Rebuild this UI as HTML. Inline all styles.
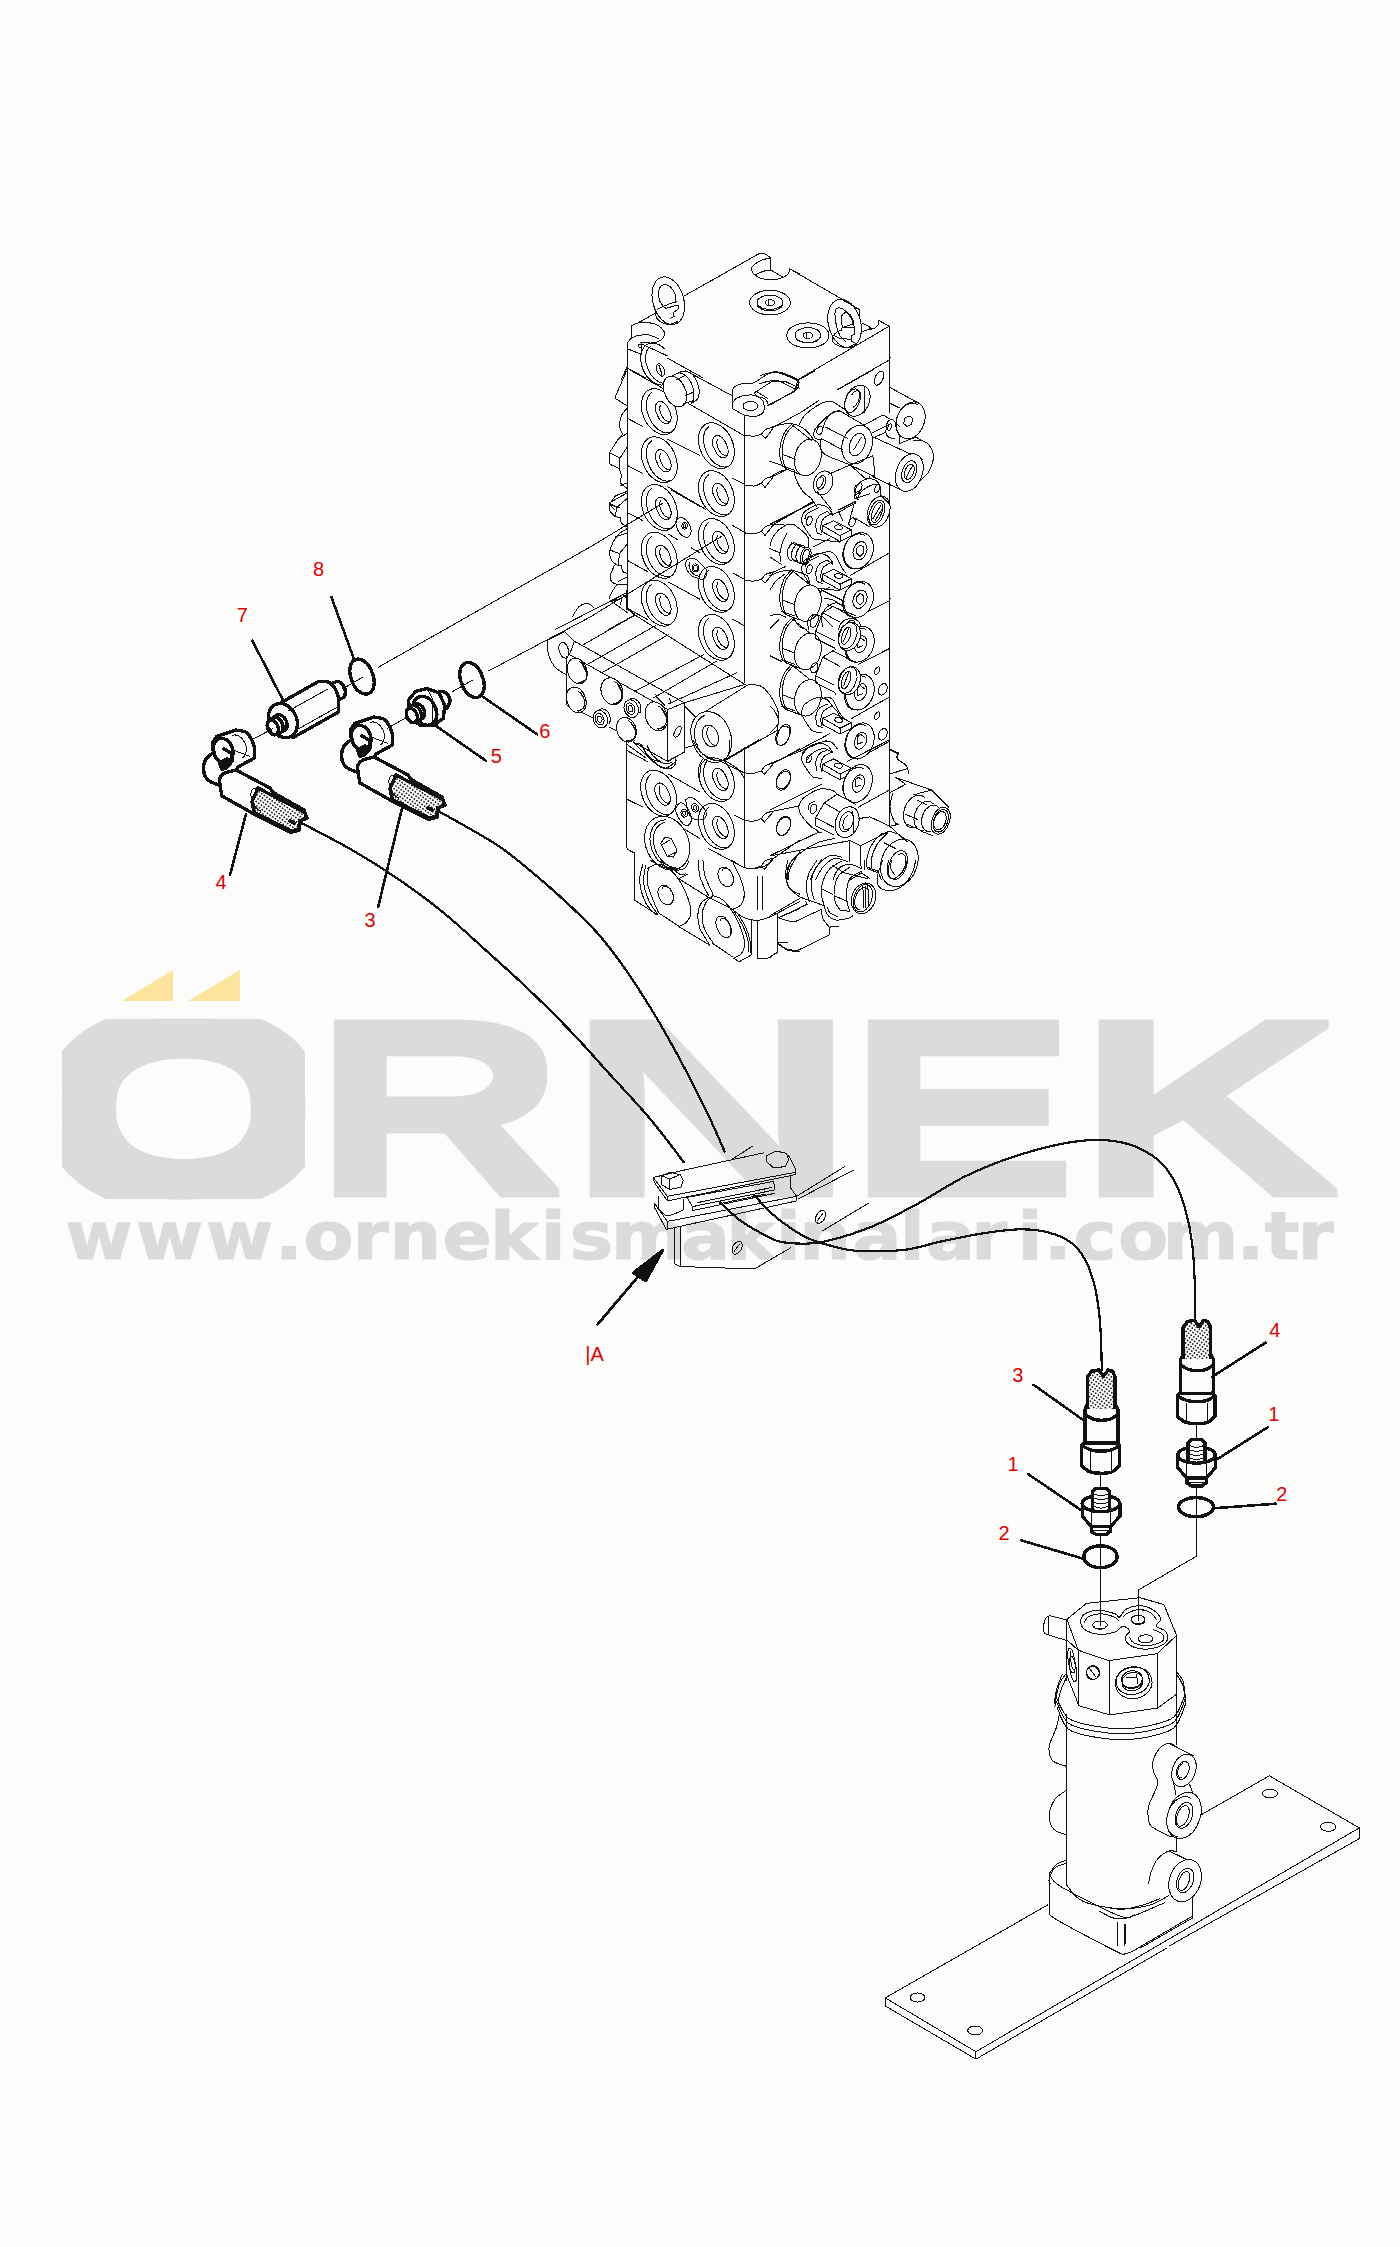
<!DOCTYPE html>
<html lang="tr">
<head>
<meta charset="utf-8">
<title>ÖRNEK - www.ornekismakinalari.com.tr</title>
<style>
html,body{margin:0;padding:0;background:#fcfdfa;}
body{width:1400px;height:2247px;overflow:hidden;font-family:"Liberation Sans",sans-serif;}
svg{display:block;}
.wm{font-family:"DejaVu Sans","Liberation Sans",sans-serif;font-weight:bold;fill:#dcdadd;}
.lbl{font-family:"Liberation Sans",sans-serif;font-size:20px;fill:#e00000;}
</style>
</head>
<body>
<svg width="1400" height="2247" viewBox="0 0 1400 2247">
<rect width="1400" height="2247" fill="#fcfdfa"/>
<defs><pattern id="hatch" width="3.2" height="3.2" patternUnits="userSpaceOnUse" patternTransform="rotate(35)"><rect width="3.2" height="3.2" fill="#fcfdfa"/><rect width="1.6" height="1.6" fill="#222"/></pattern></defs>
<!-- watermark -->
<g id="watermark">
<polygon points="122,1001 173,970 173,1001" fill="#fde49c"/>
<polygon points="188,1001 240,970 240,1001" fill="#fde49c"/>
<filter id="vd4" x="-2%" y="-10%" width="104%" height="120%"><feMorphology operator="dilate" radius="0 4"/></filter>
<clipPath id="oclip"><rect x="62" y="1019" width="243" height="180"/></clipPath>
<clipPath id="capclip"><rect x="0" y="1018.5" width="1400" height="190"/></clipPath>
<g class="wm" clip-path="url(#oclip)" aria-hidden="true"><text transform="translate(25.15,1208.40) scale(3.7260,2.7327)" font-size="100" font-family="DejaVu Sans">Ö</text><text transform="translate(19.90,1184.29) scale(3.8611,2.0725)" font-size="100" font-family="DejaVu Sans">Ö</text></g>
<g class="wm" clip-path="url(#capclip)"><g filter="url(#vd4)"><text transform="translate(0,1192.70) scale(1,2.4495)" font-size="100" font-family="Liberation Sans" stroke="#dcdadd" stroke-width="0.6" vector-effect="non-scaling-stroke"><tspan x="49.17" textLength="269.69" lengthAdjust="spacingAndGlyphs">Ö</tspan><tspan x="311.31" textLength="253.97" lengthAdjust="spacingAndGlyphs">R</tspan><tspan x="563.59" textLength="295.61" lengthAdjust="spacingAndGlyphs">N</tspan><tspan x="845.44" textLength="233.33" lengthAdjust="spacingAndGlyphs">E</tspan><tspan x="1075.42" textLength="263.96" lengthAdjust="spacingAndGlyphs">K</tspan></text></g></g>
<text class="wm" transform="scale(1.1,1)" font-size="66" y="1259.5" x="59.6 123.6 187.2 250.1 275.9 320.6 354.2 402.4 445.4 491.6 517.9 555.5 619.0 660.3 705.4 726.7 774.9 817.9 841.9 883.0 925.0 949.1 976.0 1016.6 1057.1 1124.4 1149.8 1179.7" stroke="#dcdadd" stroke-width="1.2">www.ornekismakinalari.com.tr</text>
</g>
<g id="drawing" stroke-linecap="round" stroke-linejoin="round" shape-rendering="crispEdges">
<path d="M674.4,404.9 A16.5,24 -24 1 1 644.2,418.3 A16.5,24 -24 1 1 674.4,404.9 Z M669.6,432.6 A14,22 -24 0 1 651.8,392.6 M669.2,410 A6.5,10.5 -24 1 1 657.4,415.2 A6.5,10.5 -24 1 1 669.2,410 Z M671,420.1 A5,9.5 -24 0 1 660.6,405.1 M674.4,453.1 A16.5,24 -24 1 1 644.2,466.5 A16.5,24 -24 1 1 674.4,453.1 Z M669.6,480.8 A14,22 -24 0 1 651.8,440.8 M669.2,458.2 A6.5,10.5 -24 1 1 657.4,463.4 A6.5,10.5 -24 1 1 669.2,458.2 Z M671,468.3 A5,9.5 -24 0 1 660.6,453.3 M674.4,500.8 A16.5,24 -24 1 1 644.2,514.2 A16.5,24 -24 1 1 674.4,500.8 Z M669.6,528.5 A14,22 -24 0 1 651.8,488.5 M669.2,505.9 A6.5,10.5 -24 1 1 657.4,511.1 A6.5,10.5 -24 1 1 669.2,505.9 Z M671,516 A5,9.5 -24 0 1 660.6,501 M731.5,439 A16.5,24 -24 1 1 701.3,452.4 A16.5,24 -24 1 1 731.5,439 Z M726.7,466.7 A14,22 -24 0 1 708.9,426.7 M726.3,444.1 A6.5,10.5 -24 1 1 714.5,449.3 A6.5,10.5 -24 1 1 726.3,444.1 Z M728.1,454.2 A5,9.5 -24 0 1 717.7,439.2 M731.5,486.9 A16.5,24 -24 1 1 701.3,500.3 A16.5,24 -24 1 1 731.5,486.9 Z M726.7,514.6 A14,22 -24 0 1 708.9,474.6 M726.3,492 A6.5,10.5 -24 1 1 714.5,497.2 A6.5,10.5 -24 1 1 726.3,492 Z M728.1,502.1 A5,9.5 -24 0 1 717.7,487.1 M674.4,548.6 A16.5,24 -24 1 1 644.2,562 A16.5,24 -24 1 1 674.4,548.6 Z M669.6,576.3 A14,22 -24 0 1 651.8,536.3 M669.2,553.7 A6.5,10.5 -24 1 1 657.4,558.9 A6.5,10.5 -24 1 1 669.2,553.7 Z M671,563.8 A5,9.5 -24 0 1 660.6,548.8 M674.4,596.5 A16.5,24 -24 1 1 644.2,609.9 A16.5,24 -24 1 1 674.4,596.5 Z M669.6,624.2 A14,22 -24 0 1 651.8,584.2 M669.2,601.6 A6.5,10.5 -24 1 1 657.4,606.8 A6.5,10.5 -24 1 1 669.2,601.6 Z M671,611.7 A5,9.5 -24 0 1 660.6,596.7 M731.5,534.8 A16.5,24 -24 1 1 701.3,548.2 A16.5,24 -24 1 1 731.5,534.8 Z M726.7,562.5 A14,22 -24 0 1 708.9,522.5 M726.3,539.9 A6.5,10.5 -24 1 1 714.5,545.1 A6.5,10.5 -24 1 1 726.3,539.9 Z M728.1,550 A5,9.5 -24 0 1 717.7,535 M731.5,582.7 A16.5,24 -24 1 1 701.3,596.1 A16.5,24 -24 1 1 731.5,582.7 Z M726.7,610.4 A14,22 -24 0 1 708.9,570.4 M726.3,587.8 A6.5,10.5 -24 1 1 714.5,593 A6.5,10.5 -24 1 1 726.3,587.8 Z M728.1,597.9 A5,9.5 -24 0 1 717.7,582.9 M731.5,630.6 A16.5,24 -24 1 1 701.3,644 A16.5,24 -24 1 1 731.5,630.6 Z M726.7,658.3 A14,22 -24 0 1 708.9,618.3 M726.3,635.7 A6.5,10.5 -24 1 1 714.5,640.9 A6.5,10.5 -24 1 1 726.3,635.7 Z M728.1,645.8 A5,9.5 -24 0 1 717.7,630.8 M673.7,786.5 A16.5,24 -24 1 1 643.5,799.9 A16.5,24 -24 1 1 673.7,786.5 Z M668.9,814.2 A14,22 -24 0 1 651.1,774.2 M668.5,791.6 A6.5,10.5 -24 1 1 656.7,796.8 A6.5,10.5 -24 1 1 668.5,791.6 Z M670.3,801.7 A5,9.5 -24 0 1 659.9,786.7 M731.5,771.9 A16.5,24 -24 1 1 701.3,785.3 A16.5,24 -24 1 1 731.5,771.9 Z M726.7,799.6 A14,22 -24 0 1 708.9,759.6 M726.3,777 A6.5,10.5 -24 1 1 714.5,782.2 A6.5,10.5 -24 1 1 726.3,777 Z M728.1,787.1 A5,9.5 -24 0 1 717.7,772.1 M731.5,819.7 A16.5,24 -24 1 1 701.3,833.1 A16.5,24 -24 1 1 731.5,819.7 Z M726.7,847.4 A14,22 -24 0 1 708.9,807.4 M726.3,824.8 A6.5,10.5 -24 1 1 714.5,830 A6.5,10.5 -24 1 1 726.3,824.8 Z M728.1,834.9 A5,9.5 -24 0 1 717.7,819.9 M627.9,500 L627.9,609.5 M744.3,505 L744.3,682.6 M671.6,378.4 A15,22 -24 1 1 664.4,348.7 M666.6,383.1 A12.5,20 -24 0 1 650.4,346.7 M663.8,368.5 A3.6,6.5 -24 1 1 657.2,371.5 A3.6,6.5 -24 1 1 663.8,368.5 Z M659,365.5 L662,374.5 M590,547.1 L662.1,503.6 M590,617.1 L721.4,536.4 M975.9,2051.7 L1359.3,1827.9 M975.9,2059.2 L1166,1948.5 M1170,1945.5 L1359.3,1838.6" fill="none" stroke="#111" stroke-width="1.0"/>
<path d="M760,253.1 L684.6,295.7 M656.4,312.6 L638.6,322.6 L631.4,325.7 L631.4,337.9 M760,253.1 C760.8,253.3 763.2,253.2 765,254 C766.8,254.8 769.8,257.2 770.7,257.9 M770.7,257.9 L770.7,270 M770.3,257.9 C768.8,258.3 764.1,259.1 761.4,260.3 C758.7,261.5 755.7,263.5 754,265 C752.3,266.5 751.3,267.9 751.4,269.6 C751.6,271.2 753.1,273.5 755,275 C756.9,276.5 759.4,278.1 762.9,278.9 C766.3,279.6 772.3,279.7 775.7,279.4 C779.2,279.1 781.4,278.1 783.6,277.1 C785.7,276.2 787.6,275 788.6,273.6 C789.5,272.1 789.2,269.4 789.3,268.6 M789.3,268.6 L800,273.9 M755.4,275 C756.7,274.4 760.3,272.3 762.9,271.4 C765.4,270.6 769.4,270.2 770.7,270 M770.7,270 L783.1,277.4 M638.6,322.6 C640.5,322.6 646.7,322.3 650,322.9 C653.3,323.4 656.3,324.4 658.6,325.7 C660.8,327 662.6,329.2 663.6,330.7 C664.6,332.3 664.9,333.6 664.6,335 C664.3,336.4 663.1,338.1 661.7,339.3 C660.4,340.5 658.4,341.5 656.4,342.1 C654.5,342.8 651.1,343 650,343.1 M631.4,337.9 C632.6,337.5 635.7,335.9 638.6,335.4 C641.4,335 645.2,334.5 648.6,335 C651.9,335.5 656.9,338 658.6,338.6 M631.4,337.9 C630.9,338.5 629,340.5 628.3,341.7 C627.6,342.9 627.3,344.5 627.1,345 M627.1,345 L627.1,380 M640.7,342.6 L650,342.1 M641.4,342.9 L641.4,354.3 M641.7,345.7 A1.7,1.7 0 1 1 638.3,345.7 A1.7,1.7 0 1 1 641.7,345.7 Z M641.4,343.9 L667.1,355.7 M667.1,357.9 L702.9,377.9 M628.6,349.3 L641.4,354.3 M627.1,367.1 L621.4,379.3 M627.1,367.9 L645.7,377.9 M683.1,296.5 A15.4,24 -16 1 1 653.5,305 A15.4,24 -16 1 1 683.1,296.5 Z M662.3,305.1 A8.3,12.6 -18 1 1 675.7,302.6 M655.7,312.9 C655.9,313.8 655.7,316.9 656.9,318.6 C658,320.2 660.7,321.9 662.9,322.9 C665,323.8 667.5,324.5 670,324.3 C672.5,324 676.5,321.9 677.9,321.4 M657.1,309.3 L663.6,306.4 L665.7,308.3 L677.9,305 L678.6,308.6 L672.9,312.9 L674.3,316.4 L670,318.3 M662.9,306.4 L676.4,301.4 M790.3,302.6 A20.3,12.3 0 1 1 749.7,302.6 A20.3,12.3 0 1 1 790.3,302.6 Z M782.9,302.3 A12.9,7.1 0 1 1 757.1,302.3 A12.9,7.1 0 1 1 782.9,302.3 Z M782.9,303.7 A12.9,7.1 0 0 1 757.1,303.7 M774.6,302.6 A4.6,3.1 0 1 1 765.4,302.6 A4.6,3.1 0 1 1 774.6,302.6 Z M768.6,299.7 L768.6,305.4" fill="none" stroke="#111" stroke-width="1.0"/>
<path d="M789.3,268.6 L859.3,309.3 L859.3,317.9 M842.9,300 L860,310 M878.6,320.4 L889.3,326.1 L889.3,390 M878.6,320.4 C878.5,321.1 878.9,323 878.3,324.3 C877.7,325.5 876.3,327 875,327.9 C873.7,328.7 871.4,329 870.7,329.3 M862.1,322.9 L871.4,328.1 M861.7,331.7 L870.7,328.6 M889.3,326.1 L798.6,379.3 M798.6,379.3 C798.2,380.1 796.9,382.5 796.4,384.3 C796,386.1 795.8,389 795.7,390 M889.3,360 L837.9,389.3 M889.3,357.1 L890.7,357.1 M882.5,379.8 A3.9,6.6 25 1 1 875.5,376.5 A3.9,6.6 25 1 1 882.5,379.8 Z M860,319.4 A16,24.3 -15 1 1 829.1,327.7 A16,24.3 -15 1 1 860,319.4 Z M845.7,341.4 C844.8,340.5 841.5,338.3 840,335.7 C838.5,333.1 837.3,329.5 836.4,325.7 C835.6,321.9 834.8,315.8 835,312.9 C835.2,309.9 836.3,308.3 837.9,307.9 C839.4,307.4 842,308.2 844.3,310 C846.5,311.8 849.8,315.7 851.4,318.6 C853.1,321.4 853.8,325.7 854.3,327.1 M842.8,326.8 A6,9.7 -15 1 1 853.7,325.5 M833.1,335.7 C833,336.7 831.4,339.6 832.6,341.4 C833.7,343.2 837.3,345.5 840,346.4 C842.7,347.4 845.7,347.7 848.6,347.1 C851.4,346.5 855.7,343.6 857.1,342.9 M834.3,334.3 L837.9,331.1 L841.4,330.7 L842.1,327.9 L853.6,323.6 M842.1,327.9 L854.3,327.9 L854.3,334.3 L851.4,335.7 L851.4,341.4 L855,342.9 M834.3,335.7 L840,338.6 L851.4,339.3 M828.7,335.4 A20.9,11.7 0 1 1 787,335.4 A20.9,11.7 0 1 1 828.7,335.4 Z M820.4,335.1 A12.6,6.9 0 1 1 795.3,335.1 A12.6,6.9 0 1 1 820.4,335.1 Z M820.4,336.6 A12.6,6.9 0 0 1 795.3,336.6 M812.6,335.4 A4.7,3.1 0 1 1 803.1,335.4 A4.7,3.1 0 1 1 812.6,335.4 Z M806,332.6 L806,338.3 M760,375.7 C762.1,375.1 769.3,372.5 772.9,372.1 C776.4,371.8 777.1,372.1 781.4,373.6 C785.7,375 795.7,379.5 798.6,380.7 M760,383.6 C761.9,383.1 768.1,381.1 771.4,380.7 C774.8,380.4 776.1,380 780,381.4 C783.9,382.9 792.5,388 795,389.3" fill="none" stroke="#111" stroke-width="1.0"/>
<path d="M627.9,370 L627.9,510 M744.3,415.4 L744.3,510 M630,370 L662.9,388.3 M688.6,403.6 L744.3,435.7 M627.9,418.6 L642.9,426.4 M667.1,438.9 L700,455.7 M732.9,478.6 L744.3,484.3 M627.9,465.7 L642.9,473.6 M667.1,486.4 L705.7,509.3 M685.7,370.7 L732.1,395.7" fill="none" stroke="#111" stroke-width="1.0"/>
<path d="M684.3,387.1 A10.3,15 -25 1 1 665.7,395.8 A10.3,15 -25 1 1 684.3,387.1 Z" fill="#fcfdfa" stroke="#111" stroke-width="1.0"/>
<path d="M671.4,376.4 C672.9,375.8 677.1,372.5 680,372.9 C682.9,373.2 686.3,375.7 688.6,378.6 C690.8,381.4 692.7,386.3 693.6,390 C694.4,393.7 693.6,398.9 693.6,400.7 M680,371.1 C681.9,371.5 688.3,370.9 691.4,373.6 C694.5,376.2 697.5,383 698.6,387.1 C699.6,391.3 699,395.9 697.9,398.6 C696.7,401.2 692.5,402.4 691.4,403.1 M683.6,403.6 L693.6,400.7 M685.4,395.7 L693.6,392.1 M675.7,380 L684.3,375.7 M626.4,371.4 L615.7,395.7 L615.7,398.6 L627.9,406.4 M627.9,407.4 C626.8,408.8 622.8,412.4 621.4,415.7 C620.1,419 619.5,424 619.7,427.1 C620,430.2 622.3,433.1 622.9,434.3 M622.9,434.3 L618.6,438.6 L609.3,452.9 L610,464.3 L619.3,468.6 L621.4,475.7 M609.3,452.9 L620,457.9 L627.1,447.1 M620,457.9 L619.3,468.6 M618.6,438.6 L627.9,432.9 M621.4,475.7 L620,482.9 L627.1,488.6 M627.1,482.9 L620,485.7 M627.1,491.4 L615.7,495.7 L609.3,504.3 L614.3,509.3 M609.3,504.3 L620,507.9 M732.1,395.4 C732.4,394.2 732,389.8 733.6,387.9 C735.1,385.9 738.1,384.7 741.4,383.9 C744.8,383 750,384 753.6,382.9 C757.1,381.7 759.8,378.6 762.9,376.9 C766,375.1 768.8,373.2 772.1,372.6 C775.5,371.9 778.7,371.7 782.9,372.9 C787,374 794.8,378.2 797.1,379.3 M797.1,379.3 C797.4,380.4 799.4,383.6 798.9,385.7 C798.3,387.9 794.7,391.1 793.9,392.1 M793.9,392.1 L767.9,405.3 M732.1,395.7 L732.1,408.3 L743.6,415 M743.6,415 C745.4,415.3 751.2,416.8 754.3,416.6 C757.4,416.3 760.5,414.9 762.1,413.6 C763.8,412.2 763.9,409.4 764.3,408.6 M757.7,406 A7.4,4.7 0 1 1 742.9,406 A7.4,4.7 0 1 1 757.7,406 Z M732.1,403.1 C733,402.3 734.4,399.2 737.1,397.9 C739.9,396.5 745.4,395.3 748.6,395 C751.8,394.7 754,395 756.4,396 C758.8,397 761.5,398.7 762.9,400.7 C764.2,402.8 764.3,407 764.6,408.3 M754.3,392.9 L771.4,381.7 L784.3,381 L800,388.3 M754.3,392.9 C754.8,393.5 755.5,395.5 757.1,396.4 C758.8,397.4 762.6,397.6 764.3,398.6 C766,399.5 766.7,401 767.4,402.1 C768.1,403.3 768.4,405.1 768.6,405.7 M756.4,391.4 L767.9,398.6 M744.3,435.7 C746.1,435.8 752.1,436.2 755,436 C757.9,435.8 760.4,434.6 761.4,434.3 M761.4,434.3 L765.7,438.3 L773.6,427.4 M761.4,434.3 C762.1,433.5 763.7,430.5 765.7,429.3 C767.7,428.1 772.3,427.5 773.6,427.1 M773.6,427.1 L800,412.9 M744.3,485 C746,485.2 751.4,486.3 754.3,486 C757.1,485.7 760.2,483.6 761.4,483.1 M761.4,483.1 L765,487.4 L773.6,476.4 M761.4,483.1 C762.1,482.4 763.7,479.7 765.7,478.6 C767.7,477.5 772.3,476.8 773.6,476.4 M773.6,476.4 L785.7,470" fill="none" stroke="#111" stroke-width="1.0"/>
<path d="M889.3,370 L889.3,412.9 M889.3,482.9 L889.3,510 M899.3,426.4 L899.3,443.6 M800,412.9 L818.6,400.7 M837.1,390 L872.9,370 M770,372.9 C771.4,372.7 774,370.8 778.6,372.1 C783.1,373.5 793.9,378.7 797.1,380.7 C800.4,382.7 798.7,382.5 798.1,384.3 C797.5,386.1 794.3,390.2 793.6,391.4 M793.6,391.4 L770,405 M799.3,379.3 L814.3,371.4 M868,405.7 A11.7,16 25 1 1 846.8,395.8 A11.7,16 25 1 1 868,405.7 Z M858.9,403.3 A6.9,11.1 22 1 1 846.2,398.1 A6.9,11.1 22 1 1 858.9,403.3 Z M851.7,395 A4.3,8.9 22 1 1 853.4,407.2 M864.3,386.4 L864.3,412.9" fill="none" stroke="#111" stroke-width="1.0"/>
<path d="M871,449.6 A14.7,19.7 20 1 1 843.3,439.5 A14.7,19.7 20 1 1 871,449.6 Z" fill="#fcfdfa" stroke="#111" stroke-width="1.0"/>
<path d="M864,447.4 A7.4,11.7 22 1 1 850.3,441.8 A7.4,11.7 22 1 1 864,447.4 Z M853.6,450 L861.4,437.1 M864.3,425.3 L840,411 M840,411 C838.8,411.2 835.1,410.8 832.9,412.1 C830.6,413.5 828.2,416.3 826.4,419.3 C824.6,422.3 822.9,428.2 822.1,430 M825.7,427.1 L847.9,438.6 M821.4,438.6 L842.9,450 M821.4,438.6 C821.2,440 819.7,444.5 820.3,447.1 C820.9,449.8 821.5,452.2 825,454.6 C828.5,457 838.7,460.3 841.4,461.4 M841.4,461.4 L850,465 L874.3,476.4 M850,465 L872.9,455.7 M814.3,430.7 C815,429.8 816,427.7 818.6,425 C821.2,422.3 826.5,416.7 830,414.3 C833.5,411.9 837.7,411.1 839.3,410.4 M814.3,430.7 C814.2,431.4 813.3,433.7 813.6,435 C813.8,436.3 814.4,437.7 815.7,438.6 C817,439.4 820.5,439.8 821.4,440 M822.3,431.2 A2.7,4.3 20 1 1 817.2,429.4 A2.7,4.3 20 1 1 822.3,431.2 Z M850,465 L867.1,480 M872.9,455.7 L875,475.7 M864.3,425 L882.9,415 L889.3,418.6 M872.1,432.9 L889.3,424.3 M872.9,437.9 L884.3,432.9 M873.6,437.1 L922.1,459.3 M872.1,476.4 L905,491.7" fill="none" stroke="#111" stroke-width="1.0"/>
<path d="M921.4,477 A12.9,18.3 20 1 1 897.2,468.2 A12.9,18.3 20 1 1 921.4,477 Z" fill="#fcfdfa" stroke="#111" stroke-width="1.0"/>
<path d="M915.7,474.1 A6.9,10.3 20 1 1 902.8,469.4 A6.9,10.3 20 1 1 915.7,474.1 Z M913.3,473.2 A4.3,7.1 20 1 1 905.3,470.2 A4.3,7.1 20 1 1 913.3,473.2 Z M906.4,477.1 L912.9,465 M912.9,440 C914.8,440.2 921.1,439.8 924.3,441.4 C927.5,443.1 930.7,446.7 932.1,450 C933.6,453.3 933.6,457.6 932.9,461.4 C932.1,465.2 929.8,469.9 927.9,472.9 C926,475.8 922.5,478.2 921.4,479.3 M915.7,437.1 L927.1,443.1 M899.3,443.6 L915.7,437.1" fill="none" stroke="#111" stroke-width="1.0"/>
<path d="M923.6,425 A13.7,18.9 20 1 1 897.8,415.6 A13.7,18.9 20 1 1 923.6,425 Z" fill="#fcfdfa" stroke="#111" stroke-width="1.0"/>
<path d="M903.2,437.5 A12.6,17.9 20 1 1 917.4,404.9 M905,417.9 L909.3,416 L912.9,418.6 L911.4,424.3 L907.1,426.4 L903.6,423.6Z M889.3,387.1 L918.6,403.1 M889.3,402.9 L899.3,407.9 M886.4,425 C886.8,424.3 887.5,421.5 888.6,420.7 C889.6,419.9 891.7,419.6 892.9,420 C894,420.4 895.2,422.4 895.7,422.9 M886.4,425 C886.4,426.3 885.6,430.8 886,432.9 C886.4,434.9 887.2,436.2 888.6,437.1 C890,438.1 893.3,438.3 894.3,438.6 M895.7,422.9 L899.3,426.4 M891.3,427.7 A1.7,3.1 20 1 1 888.1,426.6 A1.7,3.1 20 1 1 891.3,427.7 Z" fill="none" stroke="#111" stroke-width="1.0"/>
<path d="M820.3,460.8 A12.9,17.9 15 1 1 795.4,454.1 A12.9,17.9 15 1 1 820.3,460.8 Z" fill="#fcfdfa" stroke="#111" stroke-width="1.0"/>
<path d="M791.4,424.3 C790.1,426 785.5,430 783.6,434.3 C781.6,438.6 780.1,445.2 779.7,450 C779.4,454.8 780.4,459.7 781.4,462.9 C782.4,466 785,467.9 785.7,468.9 M793.6,425 C792.3,426.7 787.6,430.8 785.7,435 C783.8,439.2 782.5,445.4 782.1,450 C781.8,454.6 782.7,459.6 783.6,462.9 C784.4,466.1 786.5,468.2 787.1,469.3 M791.4,424.3 L811.4,440.3 M785.7,468.9 L800,474.3 M782.1,454.3 L795.7,459.3 M781.4,465.7 L794.6,470.3 M770,427.9 C771.4,427.4 775.2,425.7 778.6,425 C781.9,424.3 786.7,423.5 790,423.6 C793.3,423.7 795.7,424.4 798.6,425.7 C801.4,427 804.8,429.2 807.1,431.4 C809.5,433.6 811.9,437.6 812.9,438.9 M799.3,424.3 C800.1,422.9 801.3,418.8 804.3,415.7 C807.3,412.6 813.3,408.1 817.1,405.7 C821,403.3 824.4,402 827.1,401.4 C829.9,400.8 832.5,402 833.6,402.1 M833.6,402.1 L844.3,409.3 M770,461.4 L780.7,465 M770,477.1 C771.4,476.3 775.7,473.5 778.6,472.1 C781.4,470.8 785.7,469.8 787.1,469.3 M794.3,470 C794.5,471.4 794.3,475 795.7,478.6 C797.1,482.1 800.2,488.1 802.9,491.4 C805.5,494.8 809,496 811.4,498.6 C813.8,501.2 816.2,505.7 817.1,507.1 M832,486.1 A9.4,12.1 20 1 1 814.3,479.6 A9.4,12.1 20 1 1 832,486.1 Z M825.2,484 A4.3,7.1 20 1 1 817.1,481.1 A4.3,7.1 20 1 1 825.2,484 Z M819.8,477.4 A2.9,5.7 20 1 1 818,487.5 M817.1,491.4 L831.4,509.3 M828.6,474.3 L850,465 M855.7,495.7 C855.5,494.5 853.7,490.7 854.3,488.6 C854.9,486.4 856.9,484.5 859.3,482.9 C861.7,481.2 865.6,478.8 868.6,478.6 C871.5,478.3 875.1,479.8 877.1,481.4 C879.2,483.1 880.2,486.4 880.7,488.6 C881.2,490.7 880.1,493.3 880,494.3 M857.1,499.3 C857.9,498 859.3,493.7 861.4,491.4 C863.6,489.2 867.4,486.9 870,485.7 C872.6,484.5 876,484.5 877.1,484.3 M860.9,489.7 A2.6,5.7 25 1 1 856.2,487.5 A2.6,5.7 25 1 1 860.9,489.7 Z M879.2,489.3 A2.1,4.3 20 1 1 875.1,487.8 A2.1,4.3 20 1 1 879.2,489.3 Z M855.7,495.7 L858.6,500 M868.6,478.6 L870,475.7 M870,510 C871,508.8 873.6,504.8 875.7,502.9 C877.9,501 880.6,498.6 882.9,498.6 C885.1,498.6 888.2,502.1 889.3,502.9 M875.7,510 C876.4,509.3 878.6,506.8 880,505.7 C881.4,504.6 883.6,503.9 884.3,503.6 M798.6,510 L812.9,501.4 M838.6,510 L855.7,501.4" fill="none" stroke="#111" stroke-width="1.0"/>
<path d="M671.4,490 L700,506.4 M732.9,525.7 L744.3,532.1 M627.9,512.9 L642.9,520.7 M668.6,534.3 L677.1,539.3 M691.4,547.9 L700,552.9 M732.9,572.9 L744.3,579.3 M627.9,560.7 L647.1,571.4 M668.6,582.1 L700,599.3 M627.9,608.6 L647.1,619.3 M732.9,619.3 L744.3,625.7 M689.2,524.4 A6.4,10.3 -28 1 1 677.9,530.4 A6.4,10.3 -28 1 1 689.2,524.4 Z M687.1,525.7 A2.6,2.9 0 1 1 682,525.7 A2.6,2.9 0 1 1 687.1,525.7 Z M686,525.7 A1.4,1.7 0 1 1 683.1,525.7 A1.4,1.7 0 1 1 686,525.7 Z M698.6,578.6 C697.4,578.1 693.3,577.1 691.4,575.7 C689.5,574.3 688.1,572.1 687.1,570 C686.2,567.9 685.4,564.8 685.7,562.9 C686.1,561 687.6,559.2 689.3,558.6 C691,558 693.5,558.1 695.7,559.3 C698,560.5 701.1,563.9 702.9,565.7 C704.6,567.5 705.8,568.3 706.4,570 C707,571.7 707,574.2 706.4,575.7 C705.8,577.3 704.2,578.8 702.9,579.3 C701.5,579.8 699.3,578.7 698.6,578.6 M700,576.4 C698.9,576.1 695.4,575.7 693.6,574.3 C691.8,572.9 690,569.9 689.3,567.9 C688.6,565.8 689.3,563.1 689.3,562.1 M698.9,567.9 A3.4,4 0 1 1 692,567.9 A3.4,4 0 1 1 698.9,567.9 Z M697.3,567.9 A1.9,2.3 0 1 1 693.6,567.9 A1.9,2.3 0 1 1 697.3,567.9 Z M744.3,532.9 C746,533 751.4,533.8 754.3,533.6 C757.1,533.3 760.2,531.8 761.4,531.4 M761.4,531.4 L765,535.4 L773.6,524.6 M761.4,531.4 C762.1,530.6 763.7,527.6 765.7,526.4 C767.7,525.2 772.3,524.6 773.6,524.3 M773.6,524.3 L800,509.3 M744.3,580.7 C746,580.8 751.4,581.2 754.3,581 C757.1,580.8 760.2,579.6 761.4,579.3 M761.4,579.3 L765,583.1 L773.6,572.4 M761.4,579.3 C762.3,578.4 764.4,575.2 766.4,574 C768.5,572.8 772.4,572.5 773.6,572.1 M773.6,572.1 L785.7,566.4 M627.1,492.9 L617.1,498.6 L609.3,502.9 L610,511.4 L615,516.4 L620.7,517.9 M609.3,502.9 L617.1,507.1 L627.1,498.6 M617.1,507.1 L615,516.4 M620.7,517.9 C620.8,518.7 620.4,521.3 621.4,522.9 C622.5,524.4 626.2,526.4 627.1,527.1 M627.1,528.6 C625.5,529.8 620,532.1 617.1,535.7 C614.3,539.3 611.1,546.2 610,550 C608.9,553.8 609.8,556.2 610.7,558.6 C611.7,561 613.9,563.1 615.7,564.3 C617.5,565.5 620.5,565.5 621.4,565.7 M610,550 L619.3,553.6 L627.1,544.3 M619.3,553.6 L618.6,565 M615,537.1 L627.1,532.9 M621.4,565.7 C621.7,566.7 621.9,570.1 622.9,571.4 C623.8,572.7 626.4,573.2 627.1,573.6 M614.3,565.7 C613.7,567.1 611.2,571.7 610.7,574.3 C610.2,576.9 610.4,579.8 611.4,581.4 C612.5,583.1 614.5,583.7 617.1,584.3 C619.8,584.9 625.5,584.9 627.1,585 M627.1,577.1 L618.6,581.4 M617.1,584.3 C616.2,585.7 612.7,590.5 611.4,592.9 C610.1,595.2 609.6,597.6 609.3,598.6 M611.4,601.4 L621.4,598.6 L620.7,604.3 M611.4,601.4 L627.9,612.9 M627.1,609.3 L635,614.3 M608.6,629.3 L635,615" fill="none" stroke="#111" stroke-width="1.0"/>
<path d="M626.8,590 L626.8,609.3 M626.8,738.5 L626.8,779 M744.5,590 L744.5,682.6 M744.5,753.9 L744.5,779 M569.5,654.6 L667.9,709.6 M566.6,656.5 L566.6,704.8 L584,713.4 M634.1,742.4 L667.9,761.6 L667.9,709.6 M667.9,709.6 L684.3,702.8 L684.3,752 L667.9,761.6 M574.4,641.1 L684.3,702.8 M569.5,654.6 L574.4,641.1 M547.4,640.1 C547.5,642.4 547,649.1 548.3,653.6 C549.6,658.1 552,663.6 555.1,667.1 C558.1,670.7 564.7,673.6 566.6,674.9 M547.4,640.1 L564.7,631.5 L575.3,642.1 M568.2,649 A4.6,8.1 -15 1 1 559.3,651.4 A4.6,8.1 -15 1 1 568.2,649 Z M555.1,629.5 L626.4,592.9 M572.4,617 C573.6,615.2 576.6,608.6 579.2,606.4 C581.8,604.1 585.4,603.3 587.9,603.5 C590.3,603.7 592.7,607 593.6,607.7 M611,601.6 L622.6,594.8 L626.4,597.7 M581.1,645.9 L635.1,615.1 M587.9,664.2 L655.4,625.7 M603.3,672 L668.9,634.4 M635.1,691.2 L703.6,654.6 M653.4,698 L716.1,661.4 M668.9,703.8 L736.4,672.9 M684.3,702.8 L744.5,684.5 M635.1,615.1 L745,684.5 M627.4,609.3 L635.1,615.1" fill="none" stroke="#111" stroke-width="1.0"/>
<path d="M586.3,667.7 A9.6,13.1 -20 1 1 568.2,674.3 A9.6,13.1 -20 1 1 586.3,667.7 Z" fill="#fcfdfa" stroke="#111" stroke-width="1.0"/>
<path d="M579.1,661.6 A7.7,11.1 -20 0 1 578.5,682.4 M582.1,663.8 L586.4,672.3 M579.2,683.5 L584.5,680.2" fill="none" stroke="#111" stroke-width="1.0"/>
<path d="M585,696.8 A9.3,12 -20 1 1 567.6,703.1 A9.3,12 -20 1 1 585,696.8 Z" fill="#fcfdfa" stroke="#111" stroke-width="1.0"/>
<path d="M578.3,691.4 A7.4,10.2 -20 0 1 577.4,710.4 M580.9,693.4 L585.1,701.1 M578.1,711.3 L583.2,708.3" fill="none" stroke="#111" stroke-width="1.0"/>
<path d="M621.9,687.6 A10.6,13.5 -20 1 1 602,694.9 A10.6,13.5 -20 1 1 621.9,687.6 Z" fill="#fcfdfa" stroke="#111" stroke-width="1.0"/>
<path d="M614.1,681.4 A8.5,11.5 -20 0 1 612.9,703 M617.3,683.8 L622,692.6 M614.1,704.1 L619.9,700.7" fill="none" stroke="#111" stroke-width="1.0"/>
<path d="M666.3,712.7 A10.6,13.9 -20 1 1 646.4,719.9 A10.6,13.9 -20 1 1 666.3,712.7 Z" fill="#fcfdfa" stroke="#111" stroke-width="1.0"/>
<path d="M658.4,706.2 A8.5,11.8 -20 0 1 657.4,728.3 M661.6,708.7 L666.4,717.7 M658.4,729.5 L664.3,726" fill="none" stroke="#111" stroke-width="1.0"/>
<path d="M635.5,726.5 A9.6,12.5 -20 1 1 617.4,733.1 A9.6,12.5 -20 1 1 635.5,726.5 Z" fill="#fcfdfa" stroke="#111" stroke-width="1.0"/>
<path d="M628.4,720.8 A7.7,10.7 -20 0 1 627.5,740.8 M631.2,722.9 L635.6,731.1 M628.4,741.7 L633.7,738.6" fill="none" stroke="#111" stroke-width="1.0"/>
<path d="M637.8,706.2 A6.9,8.9 -20 1 1 624.7,711 A6.9,8.9 -20 1 1 637.8,706.2 Z" fill="#fcfdfa" stroke="#111" stroke-width="1.0"/>
<path d="M634.5,707.2 A4.2,5.8 -20 1 1 626.5,710.1 A4.2,5.8 -20 1 1 634.5,707.2 Z M632.7,707.8 A2.3,3.1 -20 1 1 628.3,709.4 A2.3,3.1 -20 1 1 632.7,707.8 Z M628.9,700 A6.9,8.9 -20 0 1 639.8,713.1" fill="none" stroke="#111" stroke-width="1.0"/>
<path d="M606.9,716.8 A6.9,8.9 -20 1 1 593.9,721.6 A6.9,8.9 -20 1 1 606.9,716.8 Z" fill="#fcfdfa" stroke="#111" stroke-width="1.0"/>
<path d="M603.6,717.8 A4.2,5.8 -20 1 1 595.6,720.7 A4.2,5.8 -20 1 1 603.6,717.8 Z M601.8,718.4 A2.3,3.1 -20 1 1 597.4,720 A2.3,3.1 -20 1 1 601.8,718.4 Z M598,710.6 A6.9,8.9 -20 0 1 609,723.7 M679.9,733.1 A2.7,5.8 30 1 1 675.2,730.4 A2.7,5.8 30 1 1 679.9,733.1 Z M669.8,698 L670.4,702.8 M655.4,694.1 L657.3,698 L665,705.7 M584,713.4 L593.6,718.2 M609.1,726.9 L616.8,730.8 M699.7,715 L747.9,684.9 M747.9,684.9 C750.2,685.1 757.2,683.9 761.4,686.4 C765.6,688.9 770.1,695.1 773,699.9 C775.9,704.8 778.1,710.4 778.8,715.4 C779.5,720.3 777.5,727.4 777.2,729.8 M777.2,730.4 L724.8,760.7" fill="none" stroke="#111" stroke-width="1.0"/>
<path d="M729.4,730.4 A19.3,24.7 -20 1 1 693.2,743.6 A19.3,24.7 -20 1 1 729.4,730.4 Z" fill="#fcfdfa" stroke="#111" stroke-width="1.0"/>
<path d="M720.9,759.6 A17.7,23.5 -20 0 1 704.8,715.4 M717.6,733.4 A7.7,11.2 -20 1 1 703.1,738.6 A7.7,11.2 -20 1 1 717.6,733.4 Z M717,744.6 A5.4,9.6 -20 0 1 708.7,727.4 M789,737 A5.8,10 20 1 1 778.2,733 A5.8,10 20 1 1 789,737 Z M684.3,705.7 L695.9,717.3 M684.3,748.1 L697.8,744.3 M634.1,742.4 C635.4,743.8 638.6,747.8 641.9,751 C645.1,754.3 649.6,759.1 653.4,762 C657.3,764.9 661.1,768.6 665,768.4 C668.9,768.2 674.6,762 676.6,760.7 M641.9,746.2 C643.1,748.1 645.7,754.9 649.6,757.8 C653.4,760.7 662.4,762.6 665,763.6 M626.8,744.3 L645.7,757.8 M699.7,779 C700,776.4 699.7,767.1 701.6,763.6 C703.6,760 707.4,758.3 711.3,757.8 C715.1,757.3 722.5,760.2 724.8,760.7 M724.8,760.7 C727,762.1 735,766.3 738.3,769.4 C741.6,772.4 743.4,777.4 744.5,779" fill="none" stroke="#111" stroke-width="1.0"/>
<path d="M626.4,740 L626.4,844.3 M626.4,844.3 C626.7,845.1 626.5,847.9 627.9,849.3 C629.2,850.7 633.2,852.3 634.3,852.9 M634.3,852.9 L634.3,880 M744.3,747.9 L744.3,867.9 M627.1,750.7 L647.1,761.4 M668.6,774.3 L700,792.1 M734.3,815 L744.3,820.3 M627.1,799.3 L642.9,807.1 M674.3,822.9 L700,838.6 M708.6,848.6 L744.3,867.9 M720,761.1 L744.3,772.9 M677.9,804.3 C678.5,804 680.1,802.6 681.4,802.9 C682.7,803.1 684.4,804.3 685.7,805.7 C687,807.1 688.3,809 689.3,811.4 C690.2,813.8 691.5,817.7 691.4,820 C691.3,822.3 689.9,824.3 688.6,825 C687.3,825.7 685.2,825.5 683.6,824.3 C681.9,823.1 679.9,820.2 678.6,817.9 C677.3,815.5 675.8,812.3 675.7,810 C675.6,807.7 677.5,805.2 677.9,804.3 M687.2,812.1 A3.1,4 -20 1 1 681.3,814.2 A3.1,4 -20 1 1 687.2,812.1 Z M685.8,812.6 A1.6,2 -20 1 1 682.8,813.7 A1.6,2 -20 1 1 685.8,812.6 Z M685.7,800 C686.4,799.5 688.3,797.1 690,797.1 C691.7,797.1 693.6,798.3 695.7,800 C697.9,801.7 701.1,805 702.9,807.1 C704.6,809.3 706.1,811.1 706.4,812.9 C706.8,814.6 706.1,816.7 705,817.9 C703.9,819 702,819.9 700,820 C698,820.1 694.9,820 692.9,818.6 C690.8,817.1 689,814.5 687.9,811.4 C686.7,808.3 686.1,801.9 685.7,800 M698.2,806.7 A3.4,4.3 -20 1 1 691.8,809 A3.4,4.3 -20 1 1 698.2,806.7 Z M696.6,807.3 A1.7,2.1 -20 1 1 693.4,808.4 A1.7,2.1 -20 1 1 696.6,807.3 Z" fill="none" stroke="#111" stroke-width="1.0"/>
<path d="M686.7,834.4 A21.4,27.9 -24 1 1 647.6,851.9 A21.4,27.9 -24 1 1 686.7,834.4 Z" fill="#fcfdfa" stroke="#111" stroke-width="1.0"/>
<path d="M676.9,868.5 A18.9,25.4 -24 1 1 665.9,819.8 M675.2,867.6 A16.9,23.6 -24 0 1 664.7,822.6 M660.7,843.6 L665,837.1 L671.4,838.6 L677.1,850 L673.6,857.1 L667.1,856.4Z M661.4,845 L670,840 M668.6,855.7 L676.4,852.1 M744.3,772.9 C746,772.9 751.4,773.5 754.3,773.1 C757.1,772.8 760.2,771.1 761.4,770.7 M761.4,770.7 L764.3,774.3 L773.6,763.6 M761.4,770.7 C762.1,769.8 763.7,766.7 765.7,765.4 C767.7,764.2 772.3,763.6 773.6,763.3 M773.6,763.3 L800,748.6 M744.3,820.7 C746,820.8 751.4,821.4 754.3,821 C757.1,820.6 760.2,819 761.4,818.6 M761.4,818.6 L764.3,822.1 L773.6,811.4 M761.4,818.6 C762.1,817.7 763.7,814.5 765.7,813.3 C767.7,812 772.3,811.5 773.6,811.1 M773.6,811.1 L800,805.7 M744.3,867.9 C746,867.9 751.4,868.5 754.3,868.1 C757.1,867.8 760.2,866.1 761.4,865.7 M761.4,865.7 L764.3,869.3 L773.6,858.6 M761.4,865.7 C762.1,864.8 763.7,861.7 765.7,860.4 C767.7,859.2 772.3,858.6 773.6,858.3 M773.6,858.3 L800,840 M789.1,783.4 A6.4,9.7 25 1 1 777.5,778 A6.4,9.7 25 1 1 789.1,783.4 Z M789.4,829.1 A6.4,9.7 25 1 1 777.7,823.7 A6.4,9.7 25 1 1 789.4,829.1 Z M667.1,740 L667.1,761.4 L684.3,752.1 L684.3,740 M641.4,744.3 C642.4,746 644.5,751 647.1,754.3 C649.8,757.6 653.8,761.9 657.1,764.3 C660.5,766.7 664.3,768.3 667.1,768.6 C670,768.9 672.8,767.7 674.3,766 C675.8,764.3 675.7,759.8 676,758.6 M647.1,745.7 C648.1,747.4 650.2,752.9 652.9,755.7 C655.5,758.6 659.8,761.7 662.9,762.9 C666,764 670,762.9 671.4,762.9 M634.3,740 L633.6,742.9 L641.4,744.3 M692.9,740 C694,741.9 696.9,748.3 700,751.4 C703.1,754.5 707.9,757 711.4,758.6 C715,760.1 718.6,761.4 721.4,760.7 C724.3,760 727.3,757.7 728.6,754.3 C729.9,750.8 729.2,742.4 729.3,740 M725.7,759.3 L758.6,740 M788.6,880 C788.8,878.1 788.1,873.3 790,868.6 C791.9,863.8 798.3,854.3 800,851.4" fill="none" stroke="#111" stroke-width="1.0"/>
<path d="M634.3,860 L634.3,900 L657.1,914.6 M647.1,868.6 C648.8,867.9 653.6,864.3 657.1,864.3 C660.7,864.3 664.8,865.7 668.6,868.6 C672.4,871.4 676.7,876.2 680,881.4 C683.3,886.7 686.8,894.5 688.6,900 C690.4,905.5 691.2,910.5 690.7,914.3 C690.2,918.1 687.5,921 685.7,922.9 C683.9,924.8 681,925.2 680,925.7 M648.6,867.1 C648.3,869.5 646.7,876.7 647.1,881.4 C647.6,886.2 649.5,890.5 651.4,895.7 C653.3,901 657.4,910 658.6,912.9 M642.9,864.3 C642.3,867.1 639.2,875 639.7,881.4 C640.2,887.9 643,897.4 645.7,902.9 C648.4,908.3 654,912.4 655.7,914.3 M645.7,865.7 C645.4,868.3 643.1,875.7 643.6,881.4 C644,887.1 646.3,894.6 648.6,900 C650.8,905.4 655.7,911.3 657.1,913.6 M672.2,892.1 A7.1,10.3 -24 1 1 659.2,897.9 A7.1,10.3 -24 1 1 672.2,892.1 Z M662,889 A5.1,8.9 -24 1 1 672.4,901.9 M658.6,912.9 L678.6,926 M678.6,926.4 L710,945.3 M650,860 C651.7,861 656,864 660,865.7 C664,867.4 670.2,869.5 674.3,870 C678.3,870.5 681.9,870 684.3,868.6 C686.7,867.1 687.9,862.6 688.6,861.4 M657.1,860 C659,861 664.8,863.3 668.6,865.7 C672.4,868.1 677.1,873 680,874.3 C682.9,875.6 684.8,873.7 685.7,873.6 M678.6,878.6 L708.6,897.4 M678.6,878.6 L687.1,874.3 M708.6,897.4 L732.9,909.3 M732.9,909.3 C734.3,908.5 739.5,907 741.4,904.3 C743.3,901.5 744.5,897.4 744.3,892.9 C744,888.3 741.9,882.1 740,877.1 C738.1,872.1 734,865.2 732.9,862.9 M732.2,874 A7.1,10.3 -24 1 1 719.2,879.8 A7.1,10.3 -24 1 1 732.2,874 Z M722,870.9 A5.1,8.9 -24 1 1 732.4,883.7 M698.6,860 C698.8,862.9 698.3,871.2 700,877.1 C701.7,883.1 707.1,892.6 708.6,895.7 M702.9,860 C703.2,862.6 703.3,870 705,875.7 C706.7,881.4 711.5,891.2 712.9,894.3 M708.6,897.4 C707.4,898.3 703.2,900 701.4,902.9 C699.6,905.7 698.1,910 697.9,914.3 C697.6,918.6 698,923.4 700,928.6 C702,933.7 708.3,942.5 710,945.3 M712.9,895.7 C711.7,896.9 707.5,899.8 705.7,902.9 C703.9,906 702.4,910 702.1,914.3 C701.9,918.6 702.4,923.7 704.3,928.6 C706.2,933.5 712,941.1 713.6,943.6 M712.9,895.7 C714.5,896.4 719.3,896.9 722.9,900 C726.4,903.1 731,908.6 734.3,914.3 C737.6,920 741.2,928.8 742.9,934.3 C744.5,939.8 744.6,943.8 744.3,947.1 C743.9,950.5 742.4,952.5 740.7,954.3 C739,956.1 735.4,957.3 734.3,957.9 M729.6,924.2 A6.6,10.3 -24 1 1 717.6,929.5 A6.6,10.3 -24 1 1 729.6,924.2 Z M720.1,920.8 A4.6,8.9 -24 1 1 730.1,933.8 M712.9,943.6 L732.9,957.1 M732.9,957.9 L739.3,961.7 L751.4,955 M734.3,912.1 C735.7,914.4 740.6,921.1 742.9,925.7 C745.1,930.4 746.9,935.7 747.9,940 C748.8,944.3 748.5,949.5 748.6,951.4 M737.1,912.9 C738.6,915.2 743.6,922.4 745.7,927.1 C747.9,931.9 749.2,937.1 750,941.4 C750.8,945.7 750.6,951 750.7,952.9 M757.1,876.4 L757.1,909.3 M762.9,876.4 L762.9,909.3 M751.4,920 L751.4,955 M757.1,920.7 L757.1,958.6 M777.9,912.9 L777.9,951.4 M757.1,958.6 C759,958.5 765.1,959 768.6,957.9 C772,956.7 776.3,952.5 777.9,951.4 M732.9,910 C734.5,911.2 739.3,915.4 742.9,917.1 C746.4,918.9 750.5,920 754.3,920.3 C758.1,920.5 761.8,919.8 765.7,918.6 C769.6,917.3 775.8,913.8 777.9,912.9 M777.9,912.9 L800,901.4 M777.9,917.9 L800,908.6 M777.9,942.9 C779.2,943.8 782,947.1 785.7,948.6 C789.4,950 797.6,951 800,951.4 M778.6,942.1 L787.1,942.1 M732.9,860.7 C734.5,861.8 739.3,865.8 742.9,867.1 C746.4,868.5 750.5,868.8 754.3,868.6 C758.1,868.3 762.9,867.1 765.7,865.7 C768.6,864.3 770.5,861 771.4,860 M800,894.3 C798.3,893.3 792.3,891.4 790,888.6 C787.7,885.7 786.4,881.2 786.4,877.1 C786.4,873.1 788.9,867.1 790,864.3 C791.1,861.4 792.4,860.7 792.9,860" fill="none" stroke="#111" stroke-width="1.0"/>
<path d="M889.3,490 L889.3,630 M850,575.7 L889.3,552.9 M855.7,617.9 L889.3,600.7 M770,524.3 L814.3,502.1 M889.3,598.6 L890.7,598.6 M802.1,516.4 C802.6,515.6 802.5,513.3 805,511.4 C807.5,509.5 813.5,505.7 817.1,505 C820.8,504.3 824.5,505.6 827.1,507.1 C829.8,508.7 831.9,513.1 832.9,514.3 M802.1,516.4 C802.1,517.5 801.3,520.4 802.1,522.9 C803,525.4 805.4,528.8 807.1,531.4 C808.9,534 810.5,537.1 812.9,538.6 C815.2,540 820,539.8 821.4,540 M805,518.6 C805.4,517.7 805.2,515.4 807.4,513.6 C809.7,511.8 816.7,508.8 818.6,507.9 M811.7,521.6 A2.6,4 20 1 1 806.9,519.8 A2.6,4 20 1 1 811.7,521.6 Z M827.9,511.4 C826.4,512.1 821.3,513.6 819.3,515.7 C817.3,517.9 816.1,521.4 815.7,524.3 C815.4,527.1 816.9,531.4 817.1,532.9 M832.1,513.6 C830.7,514.4 825.5,516.4 823.6,518.6 C821.7,520.7 821,524 820.7,526.4 C820.4,528.8 821.5,531.8 821.7,532.9 M817.1,532.9 L822.1,535 M827.1,511.4 L832.9,515.7" fill="none" stroke="#111" stroke-width="1.0"/>
<path d="M822.9,525.7 L833.6,520.7 L851.4,530 L851.4,535.7 L840,541.4 L822.9,532.1Z" fill="#fcfdfa" stroke="#111" stroke-width="1.0"/>
<path d="M840,541.4 L840,535.7 L851.4,530 M840,535.7 L822.9,525.7 M842.5,528.1 A4,2.4 10 1 1 834.6,526.7 A4,2.4 10 1 1 842.5,528.1 Z M821.4,540 L840,542.1 M812.9,547.1 L830,538.6 M802.1,565 C802.6,564.2 802.5,561.9 805,560 C807.5,558.1 813.5,554.3 817.1,553.6 C820.8,552.9 824.5,554.2 827.1,555.7 C829.8,557.3 831.9,561.7 832.9,562.9 M802.1,565 C802.1,566.1 801.3,568.9 802.1,571.4 C803,573.9 805.4,577.4 807.1,580 C808.9,582.6 810.5,585.7 812.9,587.1 C815.2,588.6 820,588.3 821.4,588.6 M805,567.1 C805.4,566.3 805.2,563.9 807.4,562.1 C809.7,560.4 816.7,557.4 818.6,556.4 M811.7,570.2 A2.6,4 20 1 1 806.9,568.4 A2.6,4 20 1 1 811.7,570.2 Z M827.9,560 C826.4,560.7 821.3,562.1 819.3,564.3 C817.3,566.4 816.1,570 815.7,572.9 C815.4,575.7 816.9,580 817.1,581.4 M832.1,562.1 C830.7,563 825.5,565 823.6,567.1 C821.7,569.3 821,572.6 820.7,575 C820.4,577.4 821.5,580.4 821.7,581.4 M817.1,581.4 L822.1,583.6 M827.1,560 L832.9,564.3" fill="none" stroke="#111" stroke-width="1.0"/>
<path d="M822.9,574.3 L833.6,569.3 L851.4,578.6 L851.4,584.3 L840,590 L822.9,580.7Z" fill="#fcfdfa" stroke="#111" stroke-width="1.0"/>
<path d="M840,590 L840,584.3 L851.4,578.6 M840,584.3 L822.9,574.3 M842.5,576.7 A4,2.4 10 1 1 834.6,575.3 A4,2.4 10 1 1 842.5,576.7 Z M821.4,588.6 L840,590.7 M812.9,595.7 L830,587.1" fill="none" stroke="#111" stroke-width="1.0"/>
<path d="M872,555.6 A14.3,18.6 20 1 1 845.1,545.8 A14.3,18.6 20 1 1 872,555.6 Z" fill="#fcfdfa" stroke="#111" stroke-width="1.0"/>
<path d="M853,568.7 A13.1,17.9 20 1 1 865,535.7 M866.2,553 A6.6,9.1 20 1 1 853.8,548.5 A6.6,9.1 20 1 1 866.2,553 Z M856.9,547.9 L860,545 L863.6,547.1 L863.6,552.9 L860,556.4 L856.9,553.6Z" fill="none" stroke="#111" stroke-width="1.0"/>
<path d="M872,604.2 A14.3,18.6 20 1 1 845.1,594.4 A14.3,18.6 20 1 1 872,604.2 Z" fill="#fcfdfa" stroke="#111" stroke-width="1.0"/>
<path d="M853,617.3 A13.1,17.9 20 1 1 865,584.3 M866.2,601.5 A6.6,9.1 20 1 1 853.8,597 A6.6,9.1 20 1 1 866.2,601.5 Z M856.9,596.4 L860,593.6 L863.6,595.7 L863.6,601.4 L860,605 L856.9,602.1Z M832.9,514.3 C834,513.8 836.2,513.3 840,511.4 C843.8,509.5 853.1,504.3 855.7,502.9 M838.6,511.4 L842.9,520.7 M848.6,524.3 L854.3,502.9 M855.1,523.2 A3.1,4.3 20 1 1 849.2,521.1 A3.1,4.3 20 1 1 855.1,523.2 Z M855.7,518.6 L870,527.1 M822.9,552.9 C824,552.6 827.9,551 830,551.4 C832.1,551.9 833.8,553.1 835.7,555.7 C837.6,558.3 839.8,564.3 841.4,567.1 C843.1,570 845,571.9 845.7,572.9 M804.3,564.3 C805.5,563.1 808.3,559 811.4,557.1 C814.5,555.2 821,553.6 822.9,552.9" fill="none" stroke="#111" stroke-width="1.0"/>
<path d="M888.5,515.3 A10.6,15.1 20 1 1 868.6,508.1 A10.6,15.1 20 1 1 888.5,515.3 Z" fill="#fcfdfa" stroke="#111" stroke-width="1.0"/>
<path d="M883.3,514.9 A6.9,11.7 20 1 1 870.4,510.2 A6.9,11.7 20 1 1 883.3,514.9 Z M881.2,514.1 A4.6,9.4 20 1 1 872.6,511 A4.6,9.4 20 1 1 881.2,514.1 Z M872.9,518.6 L880.7,505.7 M875,520.7 L882.9,507.9 M855.7,498.6 L870,493.6 M880,494.3 L889.3,503.6 M854.3,498.6 C854.5,497.6 854.5,494.3 855.7,492.9 C856.9,491.4 860.5,490.5 861.4,490 M793.4,559.5 A5.1,8.9 15 1 1 797.3,544.7 M797.6,560.9 A5.1,8.9 15 1 1 801.6,546.1 M801.9,562.6 A5.1,8.9 15 1 1 805.9,547.8 M810.4,557.3 A4.9,8.3 15 1 1 801,554.7 A4.9,8.3 15 1 1 810.4,557.3 Z M808.5,556.7 A2.9,5.7 15 1 1 803,555.3 A2.9,5.7 15 1 1 808.5,556.7 Z M791.4,542.9 L804.3,547.9 M792.9,560 L804.3,564.3 M770,524.3 L784.3,525 M778.6,530 L787.1,524.3 L793.6,524.3 L802.9,531.4 M802.9,531.4 C803.7,532.4 806.9,534.5 807.9,537.1 C808.9,539.8 808.7,545.5 808.9,547.1 M778.6,530 C777.6,531.2 774.3,534.5 772.9,537.1 C771.4,539.8 770.5,544.3 770,545.7 M787.1,532.9 C786.4,534.3 784,538.1 782.9,541.4 C781.7,544.8 780.4,549.5 780,552.9 C779.6,556.2 780.6,560 780.7,561.4 M770,548.6 L780,552.9 M770,557.1 L781.4,564.3 M784.3,567.1 L770,573.6 M791.4,570 C790.1,571.7 785.5,575.7 783.6,580 C781.6,584.3 780.1,591 779.7,595.7 C779.4,600.5 780.4,605.4 781.4,608.6 C782.4,611.7 785,613.6 785.7,614.6 M793.6,570.7 C792.3,572.4 787.6,576.5 785.7,580.7 C783.8,584.9 782.5,591.1 782.1,595.7 C781.8,600.4 782.7,605.4 783.6,608.6 C784.4,611.8 786.5,613.9 787.1,615 M791.4,570 L811.4,586 M782.1,600 L795.7,605 M781.4,611.4 L794.6,616" fill="none" stroke="#111" stroke-width="1.0"/>
<path d="M820.3,606.5 A12.9,17.9 15 1 1 795.4,599.8 A12.9,17.9 15 1 1 820.3,606.5 Z" fill="#fcfdfa" stroke="#111" stroke-width="1.0"/>
<path d="M770,575.7 C771.4,575.1 775.2,573.1 778.6,572.1 C781.9,571.2 786.7,570 790,570 C793.3,570 797.1,571.8 798.6,572.1 M798.6,572.1 C800,572.7 805.2,573.7 807.1,575.7 C809,577.7 809.5,582.9 810,584.3 M770,590 C771,588.6 773.3,584 775.7,581.4 C778.1,578.8 782.9,575.5 784.3,574.3 M785.7,614.6 L800,620 M770,615.7 C771.4,615.5 776,614 778.6,614.3 C781.2,614.5 784.5,616.7 785.7,617.1 M794.3,618.6 C795,619.8 796.4,623.8 798.6,625.7 C800.7,627.6 805.7,629.3 807.1,630 M817.6,621.9 A3.6,6 20 1 1 810.9,619.5 A3.6,6 20 1 1 817.6,621.9 Z M808.6,630 C808.5,628.6 807.4,623.8 807.9,621.4 C808.3,619 809.9,616.9 811.4,615.7 C813,614.5 815.5,613.8 817.1,614.3 C818.8,614.8 820.6,616.4 821.4,618.6 C822.3,620.7 822,625.7 822.1,627.1 M821.4,590 L844.3,601.4 M824.3,598.6 C825.7,598.8 829.5,598.6 832.9,600 C836.2,601.4 842.4,606 844.3,607.1 M821.4,614.3 C822.4,613.1 824.8,609 827.1,607.1 C829.5,605.2 832.9,603.1 835.7,602.9 C838.6,602.6 842.9,605.2 844.3,605.7 M827.1,604.3 L855.7,615.7 M838.6,630 C839,628.8 839.5,624.8 841.4,622.9 C843.3,621 847.1,618.8 850,618.6 C852.9,618.3 856.7,619.5 858.6,621.4 C860.5,623.3 861,628.6 861.4,630 M854,629.3 A4.3,7.1 20 1 1 846,626.4 A4.3,7.1 20 1 1 854,629.3 Z M821.4,615.7 L832.9,627.1" fill="none" stroke="#111" stroke-width="1.0"/>
<path d="M889.3,620 L889.3,760 M858.6,664.3 L889.3,648.6 M851.4,718.6 L889.3,697.1 M857.1,759.3 L889.3,741.4 M889.3,749.3 L898.6,754.3 M897.9,754.3 L897.9,759.3 M791.4,618.3 C790.1,620 785.5,624 783.6,628.3 C781.6,632.6 780.1,639.2 779.7,644 C779.4,648.8 780.4,653.7 781.4,656.9 C782.4,660 785,661.9 785.7,662.9 M793.6,619 C792.3,620.7 787.6,624.8 785.7,629 C783.8,633.2 782.5,639.4 782.1,644 C781.8,648.6 782.7,653.6 783.6,656.9 C784.4,660.1 786.5,662.2 787.1,663.3 M791.4,618.3 L811.4,634.3 M782.1,648.3 L795.7,653.3 M781.4,659.7 L794.6,664.3 M785.7,662.9 L800,668.3" fill="none" stroke="#111" stroke-width="1.0"/>
<path d="M820.3,654.8 A12.9,17.9 15 1 1 795.4,648.1 A12.9,17.9 15 1 1 820.3,654.8 Z" fill="#fcfdfa" stroke="#111" stroke-width="1.0"/>
<path d="M791.4,664.7 C790.1,666.4 785.5,670.4 783.6,674.7 C781.6,679 780.1,685.7 779.7,690.4 C779.4,695.2 780.4,700.1 781.4,703.3 C782.4,706.4 785,708.3 785.7,709.3 M793.6,665.4 C792.3,667.1 787.6,671.3 785.7,675.4 C783.8,679.6 782.5,685.8 782.1,690.4 C781.8,695.1 782.7,700.1 783.6,703.3 C784.4,706.5 786.5,708.6 787.1,709.7 M791.4,664.7 L811.4,680.7 M782.1,694.7 L795.7,699.7 M781.4,706.1 L794.6,710.7 M785.7,709.3 L800,714.7" fill="none" stroke="#111" stroke-width="1.0"/>
<path d="M820.3,701.2 A12.9,17.9 15 1 1 795.4,694.5 A12.9,17.9 15 1 1 820.3,701.2 Z" fill="#fcfdfa" stroke="#111" stroke-width="1.0"/>
<path d="M872.8,648.9 A13.6,18.3 20 1 1 847.2,639.6 A13.6,18.3 20 1 1 872.8,648.9 Z" fill="#fcfdfa" stroke="#111" stroke-width="1.0"/>
<path d="M854.2,661.9 A12.6,17.4 20 1 1 865.9,629.6 M866.1,646.2 A5.7,8.6 20 1 1 855.3,642.3 A5.7,8.6 20 1 1 866.1,646.2 Z M857.1,647.9 L857.1,640.7 L860.7,637.9 L864.3,640.7 M857.1,647.9 L862.9,645.7 M855.7,618.6 L832.9,606.4 L822.9,612.9 L815.7,631.4 L834.3,640.7 M822.9,612.9 L840,622.1 M815.7,631.4 L815.7,638.6 L834.3,647.9 L835.7,650" fill="none" stroke="#111" stroke-width="1.0"/>
<path d="M859.4,640.1 A10.7,14.3 20 1 1 839.2,632.8 A10.7,14.3 20 1 1 859.4,640.1 Z" fill="#fcfdfa" stroke="#111" stroke-width="1.0"/>
<path d="M855.6,638.5 A8.3,12.1 20 1 1 840.1,632.9 A8.3,12.1 20 1 1 855.6,638.5 Z M849.9,637.1 A4,9.1 20 1 1 842.4,634.3 A4,9.1 20 1 1 849.9,637.1 Z M843.6,641.4 L848.6,628.6" fill="none" stroke="#111" stroke-width="1.0"/>
<path d="M872.8,696.8 A13.6,18.3 20 1 1 847.2,687.5 A13.6,18.3 20 1 1 872.8,696.8 Z" fill="#fcfdfa" stroke="#111" stroke-width="1.0"/>
<path d="M854.2,709.7 A12.6,17.4 20 1 1 865.9,677.5 M866.1,694.1 A5.7,8.6 20 1 1 855.3,690.2 A5.7,8.6 20 1 1 866.1,694.1 Z M857.1,695.7 L857.1,688.6 L860.7,685.7 L864.3,688.6 M857.1,695.7 L862.9,693.6 M855.7,662.9 L832.9,650.7 L822.9,657.1 L815.7,675.7 L834.3,685 M822.9,657.1 L840,666.4 M815.7,675.7 L815.7,682.9 L834.3,692.1 L835.7,694.3" fill="none" stroke="#111" stroke-width="1.0"/>
<path d="M859.4,684.4 A10.7,14.3 20 1 1 839.2,677 A10.7,14.3 20 1 1 859.4,684.4 Z" fill="#fcfdfa" stroke="#111" stroke-width="1.0"/>
<path d="M855.6,682.8 A8.3,12.1 20 1 1 840.1,677.2 A8.3,12.1 20 1 1 855.6,682.8 Z M849.9,681.4 A4,9.1 20 1 1 842.4,678.6 A4,9.1 20 1 1 849.9,681.4 Z M843.6,685.7 L848.6,672.9 M817.5,669 A3.4,5.1 20 1 1 811.1,666.7 A3.4,5.1 20 1 1 817.5,669 Z M802.1,709 C802.6,708.2 802.5,705.9 805,704 C807.5,702.1 813.5,698.3 817.1,697.6 C820.8,696.9 824.5,698.2 827.1,699.7 C829.8,701.3 831.9,705.7 832.9,706.9 M802.1,709 C802.1,710.1 801.3,712.9 802.1,715.4 C803,717.9 805.4,721.4 807.1,724 C808.9,726.6 810.5,729.7 812.9,731.1 C815.2,732.6 820,732.3 821.4,732.6 M827.9,704 C826.4,704.7 821.3,706.1 819.3,708.3 C817.3,710.4 816.1,714 815.7,716.9 C815.4,719.7 816.9,724 817.1,725.4 M832.1,706.1 C830.7,707 825.5,709 823.6,711.1 C821.7,713.3 821,716.6 820.7,719 C820.4,721.4 821.5,724.4 821.7,725.4 M817.1,725.4 L822.1,727.6" fill="none" stroke="#111" stroke-width="1.0"/>
<path d="M822.9,718.3 L833.6,713.3 L851.4,722.6 L851.4,728.3 L840,734 L822.9,724.7Z" fill="#fcfdfa" stroke="#111" stroke-width="1.0"/>
<path d="M840,734 L840,728.3 L851.4,722.6 M840,728.3 L822.9,718.3 M842.5,720.7 A4,2.4 10 1 1 834.6,719.3 A4,2.4 10 1 1 842.5,720.7 Z M832.9,706.9 C833.6,707.6 835.7,709.2 837.1,711.4 C838.6,713.6 840.7,718.6 841.4,720 M820,700 C821.2,699.5 825,697.1 827.1,697.1 C829.3,697.1 831,697.6 832.9,700 C834.8,702.4 836.7,708.3 838.6,711.4 C840.5,714.5 843.3,717.4 844.3,718.6" fill="none" stroke="#111" stroke-width="1.0"/>
<path d="M872.8,745.4 A13.6,18.3 20 1 1 847.2,736.1 A13.6,18.3 20 1 1 872.8,745.4 Z" fill="#fcfdfa" stroke="#111" stroke-width="1.0"/>
<path d="M854.2,758.3 A12.6,17.4 20 1 1 865.9,726 M866.1,742.7 A5.7,8.6 20 1 1 855.3,738.8 A5.7,8.6 20 1 1 866.1,742.7 Z M857.1,744.3 L857.1,737.1 L860.7,734.3 L864.3,737.1 M857.1,744.3 L862.9,742.1 M879.1,671.6 A2.1,4 25 1 1 875.2,669.8 A2.1,4 25 1 1 879.1,671.6 Z M886.5,691 A4,6 25 1 1 879.2,687.6 A4,6 25 1 1 886.5,691 Z M879.1,716.6 A2.1,4 25 1 1 875.2,714.8 A2.1,4 25 1 1 879.1,716.6 Z M886.5,736 A4,6 25 1 1 879.2,732.6 A4,6 25 1 1 886.5,736 Z M788.7,738.4 A6.4,10 25 1 1 777,733 A6.4,10 25 1 1 788.7,738.4 Z M781.4,759.3 L830,733.6 M770,705.7 C771,706.9 774.3,710 775.7,712.9 C777.1,715.7 779.5,719.5 778.6,722.9 C777.6,726.2 771.4,731.2 770,732.9 M802.9,754.3 C803.6,753.3 804.5,750.5 807.1,748.6 C809.8,746.7 814.8,744 818.6,742.9 C822.4,741.7 826.9,740.5 830,741.4 C833.1,742.4 836,747.4 837.1,748.6 M807.1,760 C808.1,758.8 810,754.8 812.9,752.9 C815.7,751 821,748.6 824.3,748.6 C827.6,748.6 831.4,752.1 832.9,752.9 M770,655.7 L781.4,661.4 M770,628.6 L778.6,620" fill="none" stroke="#111" stroke-width="1.0"/>
<path d="M889.3,740 L889.3,825.7 M802.1,754.7 C802.6,753.9 802.5,751.6 805,749.7 C807.5,747.8 813.5,744 817.1,743.3 C820.8,742.6 824.5,743.9 827.1,745.4 C829.8,747 831.9,751.4 832.9,752.6 M802.1,754.7 C802.1,755.8 801.3,758.6 802.1,761.1 C803,763.6 805.4,767.1 807.1,769.7 C808.9,772.3 810.5,775.4 812.9,776.9 C815.2,778.3 820,778 821.4,778.3 M827.9,749.7 C826.4,750.4 821.3,751.9 819.3,754 C817.3,756.1 816.1,759.7 815.7,762.6 C815.4,765.4 816.9,769.7 817.1,771.1 M832.1,751.9 C830.7,752.7 825.5,754.7 823.6,756.9 C821.7,759 821,762.3 820.7,764.7 C820.4,767.1 821.5,770.1 821.7,771.1" fill="none" stroke="#111" stroke-width="1.0"/>
<path d="M822.9,764 L833.6,759 L851.4,768.3 L851.4,774 L840,779.7 L822.9,770.4Z" fill="#fcfdfa" stroke="#111" stroke-width="1.0"/>
<path d="M840,779.7 L840,774 L851.4,768.3 M840,774 L822.9,764 M842.5,766.4 A4,2.4 10 1 1 834.6,765 A4,2.4 10 1 1 842.5,766.4 Z M811,759.8 A2.3,3.7 20 1 1 806.7,758.2 A2.3,3.7 20 1 1 811,759.8 Z" fill="none" stroke="#111" stroke-width="1.0"/>
<path d="M870.6,788.2 A13.6,18.3 20 1 1 845.1,778.9 A13.6,18.3 20 1 1 870.6,788.2 Z" fill="#fcfdfa" stroke="#111" stroke-width="1.0"/>
<path d="M852,801.2 A12.6,17.4 20 1 1 863.8,768.9 M863.9,785.5 A5.7,8.6 20 1 1 853.2,781.6 A5.7,8.6 20 1 1 863.9,785.5 Z M855,787.1 L855,780 L858.6,777.1 L862.1,780 M855,787.1 L860.7,785 M789.4,782 A6.4,10 25 1 1 777.7,776.6 A6.4,10 25 1 1 789.4,782 Z M789.4,828.4 A6.4,10 25 1 1 777.7,823 A6.4,10 25 1 1 789.4,828.4 Z M770,763.6 L827.1,740 M770,810 L821.4,784.3 M770,855.7 L818.6,832.1 M858.6,807.1 L889.3,790 M847.1,761.4 L889.3,740 M798.6,807.1 C799.3,805.7 799.5,801.5 802.9,798.6 C806.2,795.6 813.8,790.7 818.6,789.3 C823.3,787.9 828.3,789.2 831.4,790 C834.5,790.8 836.2,793.6 837.1,794.3 M798.6,807.1 C798.9,808.3 798.8,811.2 800.7,814.3 C802.6,817.4 807.3,823 810,825.7 C812.7,828.4 816,829.5 817.1,830.3 M816.5,809.9 A3.1,4.9 20 1 1 810.6,807.8 A3.1,4.9 20 1 1 816.5,809.9 Z M808.3,810 C808.5,809 808.3,805.7 809.3,804.3 C810.3,802.9 813.5,801.9 814.3,801.4 M837.1,794.3 L824.3,802.9 L815.7,817.9 L815.7,825.7 L834.3,835 M824.3,802.9 L841.4,812.9 M815.7,817.9 L833.6,827.1 M837.1,794.3 L855.7,804.3" fill="none" stroke="#111" stroke-width="1.0"/>
<path d="M857.9,826.1 A11.4,15.7 20 1 1 836.4,818.2 A11.4,15.7 20 1 1 857.9,826.1 Z" fill="#fcfdfa" stroke="#111" stroke-width="1.0"/>
<path d="M852.5,823.9 A6.4,10.3 20 1 1 840.4,819.5 A6.4,10.3 20 1 1 852.5,823.9 Z M849.2,828 A4.3,7.9 20 1 1 847.3,815.5 M852.9,811.4 L853.6,831.4 M858.6,818.6 L870,816.9 L889.3,826 M889.3,825.7 L902.9,838.6 M849.3,840 L849.3,861.4 M860.7,845.7 L860.7,865.7 M849.3,840 L860.7,845.7 L888.6,831.4 M817.1,831.4 L821.4,832.9 M770,856 L849.3,840.7 M889.3,748.6 L898.6,753.1 M898.6,753.1 C898.3,754 895.8,756.5 897.1,758.6 C898.5,760.7 904.5,763.3 906.4,765.7 C908.3,768.1 908.2,771.9 908.6,773.1 M889.3,774.3 L907.1,768.6 M895.7,777.4 L931.4,790 M895.7,777.4 L905.7,784.3 L889.3,792.9 M892.9,792.9 C892.4,795.2 889.8,802.4 890,807.1 C890.2,811.9 892.9,818.6 894.3,821.4 C895.7,824.3 897.9,823.8 898.6,824.3 M889.3,826.4 L898.6,824.3 M931.4,790 L948.6,807.1" fill="none" stroke="#111" stroke-width="1.0"/>
<path d="M948.8,823.6 A8.6,12.6 20 1 1 932.7,817.8 A8.6,12.6 20 1 1 948.8,823.6 Z" fill="#fcfdfa" stroke="#111" stroke-width="1.0"/>
<path d="M947.2,823.1 A6.9,10.6 20 1 1 934.3,818.4 A6.9,10.6 20 1 1 947.2,823.1 Z M945.4,822.7 A5.7,9.4 20 1 1 934.6,818.8 A5.7,9.4 20 1 1 945.4,822.7 Z M914,827.7 A11.4,16.9 20 1 1 924.8,797.9 M923.5,830.2 A10.3,15 20 1 1 933.1,803.7 M930.1,831.4 A9.3,13.6 20 1 1 938.8,807.4 M912.9,795 L931.4,790 M905.7,814.3 L917.1,819.3 M907.1,824.3 L918.6,829.3 M917.1,800 L927.1,805 M921.4,831.4 L932.9,835.7" fill="none" stroke="#111" stroke-width="1.0"/>
<path d="M916.1,869 A17.9,23.6 20 1 1 882.5,856.7 A17.9,23.6 20 1 1 916.1,869 Z" fill="#fcfdfa" stroke="#111" stroke-width="1.0"/>
<path d="M905.9,867.9 A8.6,13.6 20 1 1 889.8,862.1 A8.6,13.6 20 1 1 905.9,867.9 Z M898.6,854.8 A6.4,12.1 20 1 1 898.7,876 M882.9,832.9 C881.2,834.5 875.5,838.8 872.9,842.9 C870.2,846.9 868.1,852.9 867.1,857.1 C866.2,861.4 867.1,866.7 867.1,868.6 M887.1,833.6 C885.5,835.4 879.8,840.1 877.1,844.3 C874.5,848.5 872.3,854.5 871.4,858.6 C870.5,862.6 871.7,866.9 871.7,868.6 M884.3,842.9 L895.7,848.6 M867.1,868.6 L878.6,872.9 L881.4,880 M889.3,831.4 C890.8,831.9 895.6,832.6 898.6,834.3 C901.5,836 905.7,840.2 907.1,841.4 M787.1,880 C787.4,877.6 786.7,870 788.6,865.7 C790.5,861.4 793.8,858.1 798.6,854.3 C803.3,850.5 811.2,845.5 817.1,842.9 C823.1,840.2 831.4,839.3 834.3,838.6 M810,880 C811.2,877.6 813.8,869.8 817.1,865.7 C820.5,861.7 826,857.1 830,855.7 C834,854.3 839.5,856.9 841.4,857.1 M815.7,880 C816.9,877.9 819.8,870.7 822.9,867.1 C826,863.6 830.2,859.5 834.3,858.6 C838.3,857.6 845,861 847.1,861.4 M832.9,880 C833.8,878.1 835.7,871.2 838.6,868.6 C841.4,866 846.2,864.3 850,864.3 C853.8,864.3 859.5,867.9 861.4,868.6 M832.9,865.7 L844.3,872.9 M850,880 L861.4,872.9 L870,878.6" fill="none" stroke="#111" stroke-width="1.0"/>
<path d="M787.9,860 C787.5,862.4 785.6,869.8 785.7,874.3 C785.8,878.8 786.2,883.3 788.6,887.1 C791,891 798.1,895.5 800,897.1 M817.1,860 C815.7,862.4 810.4,869.5 808.6,874.3 C806.8,879 806.3,884 806.4,888.6 C806.5,893.1 808.8,899.3 809.3,901.4 M821.4,860 C820,862.4 814.5,869.5 812.9,874.3 C811.2,879 811.2,884.3 811.4,888.6 C811.7,892.9 813.8,898.1 814.3,900 M800,897.1 L824.3,905.7 M841.4,861.4 C839.5,862.6 833.1,865.2 830,868.6 C826.9,871.9 824.3,877.1 822.9,881.4 C821.4,885.7 821.2,890.2 821.4,894.3 C821.7,898.3 823.8,903.8 824.3,905.7 M850,867.1 C848.1,868.6 841.2,872.1 838.6,875.7 C836,879.3 834.9,884.3 834.3,888.6 C833.7,892.9 834,897.9 835,901.4 C836,905 839.2,908.6 840,910 M861.4,871.4 C859.5,872.6 852.5,875 850,878.6 C847.5,882.1 846.8,888.3 846.4,892.9 C846.1,897.4 847.3,902.6 847.9,905.7 C848.5,908.8 849.6,910.5 850,911.4 M832.9,865.7 L844.3,872.9 M821.4,888.6 L832.9,894.3 M834.3,895.7 L847.1,901.4 M844.3,872.9 L867.1,878.6 M840,910 L850,911.4" fill="none" stroke="#111" stroke-width="1.0"/>
<path d="M874.6,902.3 A11.7,15.7 20 1 1 852.6,894.3 A11.7,15.7 20 1 1 874.6,902.3 Z" fill="#fcfdfa" stroke="#111" stroke-width="1.0"/>
<path d="M871.2,901.3 A8.9,13.1 20 1 1 854.5,895.3 A8.9,13.1 20 1 1 871.2,901.3 Z M859.4,909.6 A6.9,11.4 20 1 1 868,889.3 M862.9,886.4 L863.6,907.9 M865,885.7 L865.7,907.1 M867.9,885.7 L868.6,906.4 M824.3,905.7 C824.8,907.1 825.2,911.9 827.1,914.3 C829,916.7 832.4,919.3 835.7,920 C839,920.7 844.3,919.3 847.1,918.6 C850,917.9 851.9,916.2 852.9,915.7 M827.1,907.1 C827.6,908.1 828.3,911.3 830,912.9 C831.7,914.4 836,915.8 837.1,916.4 M860,860 L861.4,868.6 M864.3,860 L865,870 M867.1,867.1 L878.6,871.4 L882.9,860 M878.6,871.4 C878.3,873.3 876.7,880 877.1,882.9 C877.6,885.7 879,887.3 881.4,888.6 C883.8,889.9 887.6,891.4 891.4,890.7 C895.2,890 900.7,887.5 904.3,884.3 C907.9,881.1 911,875.5 912.9,871.4 C914.8,867.4 915.2,861.9 915.7,860 M888.6,860 C888.3,861.9 886.7,868.3 887.1,871.4 C887.6,874.5 889.5,877.9 891.4,878.6 C893.3,879.3 896.2,877.9 898.6,875.7 C901,873.6 904.3,868.3 905.7,865.7 C907.1,863.1 906.9,861 907.1,860 M891.4,860 C891.3,861.4 890.2,866.2 890.7,868.6 C891.2,871 893.7,873.3 894.3,874.3 M770,915.7 L800,898.3 M777.1,912.9 L777.1,952.9 L770,956.4 M778.6,917.9 C780,918.3 784.3,920.1 787.1,920.7 C790,921.3 794.3,921.3 795.7,921.4 M795.7,921.4 L821.4,909.3 M805.7,901.4 L807.1,904.3 L780,917.1 M821.4,909.3 C821.7,910.8 821.5,915.6 822.9,918.6 C824.2,921.5 828.2,925.7 829.3,927.1 M829.3,927.1 L829.3,935 L795.7,951.4 M795.7,951.4 C794.3,951.2 790,951.2 787.1,950 C784.3,948.8 780,945.2 778.6,944.3 M778.6,942.9 L787.1,942.6 M829.3,927.1 L838.6,926.4" fill="none" stroke="#111" stroke-width="1.0"/>
<path d="M258,788 L305,812.4 L306.4,818 L299.6,821 L298.6,829 L291,831 L254.4,812.4 L252,802Z" fill="url(#hatch)" stroke="#111" stroke-width="3.4"/>
<path d="M214,750 C213.8,748.8 212.1,745.3 212.6,743 C213.1,740.7 216.3,737.5 217,736.4 M217,736.4 L236,730 M236,730 C237.8,730.5 244,730.3 247,733 C250,735.7 252.8,741.8 254,746 C255.2,750.2 254.3,756 254.4,758 M254.4,758 L238,767" fill="none" stroke="#111" stroke-width="3.4"/>
<path d="M232,747.1 A9.6,11.6 -20 1 1 214,753.7 A9.6,11.6 -20 1 1 232,747.1 Z" fill="#fcfdfa" stroke="#111" stroke-width="3.4"/>
<path d="M214.4,752 C213,753.2 207.8,756 206,759 C204.2,762 203.3,766.5 203.6,770 C203.9,773.5 205.3,777.4 208,780 C210.7,782.6 218,784.7 220,785.6 M224,749 C225.2,749.8 229.7,751.6 231,753.6 C232.3,755.6 232.8,758.6 232,761 C231.2,763.4 227.3,766.8 226.4,768" fill="none" stroke="#111" stroke-width="3.4"/>
<path d="M219.6,762.4 L227,759 L227.6,767 L222,769.6Z" fill="#111" stroke="#111" stroke-width="3.4"/>
<path d="M220,785.6 C220,784.3 219.2,780.1 220,778 C220.8,775.9 222.3,774.3 225,773 C227.7,771.7 234.2,770.5 236,770 M236,770 L270,788 L273,792.4 L304,810 L307,818 L300.4,821 L299.2,830 L290.6,832.4 L254,814 L222,796 L220,785.6 M290,821 L294,823" fill="none" stroke="#111" stroke-width="3.4"/>
<path d="M396,775 L443,799.4 L444.4,805 L437.6,808 L436.6,816 L429,818 L392.4,799.4 L390,789Z" fill="url(#hatch)" stroke="#111" stroke-width="3.4"/>
<path d="M352,737 C351.8,735.8 350.1,732.3 350.6,730 C351.1,727.7 354.3,724.5 355,723.4 M355,723.4 L374,717 M374,717 C375.8,717.5 382,717.3 385,720 C388,722.7 390.8,728.8 392,733 C393.2,737.2 392.3,743 392.4,745 M392.4,745 L376,754" fill="none" stroke="#111" stroke-width="3.4"/>
<path d="M370,734.1 A9.6,11.6 -20 1 1 352,740.7 A9.6,11.6 -20 1 1 370,734.1 Z" fill="#fcfdfa" stroke="#111" stroke-width="3.4"/>
<path d="M352.4,739 C351,740.2 345.8,743 344,746 C342.2,749 341.3,753.5 341.6,757 C341.9,760.5 343.3,764.4 346,767 C348.7,769.6 356,771.7 358,772.6 M362,736 C363.2,736.8 367.7,738.6 369,740.6 C370.3,742.6 370.8,745.6 370,748 C369.2,750.4 365.3,753.8 364.4,755" fill="none" stroke="#111" stroke-width="3.4"/>
<path d="M357.6,749.4 L365,746 L365.6,754 L360,756.6Z" fill="#111" stroke="#111" stroke-width="3.4"/>
<path d="M358,772.6 C358,771.3 357.2,767.1 358,765 C358.8,762.9 360.3,761.3 363,760 C365.7,758.7 372.2,757.5 374,757 M374,757 L408,775 L411,779.4 L442,797 L445,805 L438.4,808 L437.2,817 L428.6,819.4 L392,801 L360,783 L358,772.6 M428,808 L432,810" fill="none" stroke="#111" stroke-width="3.4"/>
<path d="M232.8,735.3 A9,12.4 -20 0 1 242.6,757.9 M233,750 L250,756.4 M260.6,811.1 A6.4,12.4 -25 0 1 256.1,788.5 M370.8,722.3 A9,12.4 -20 0 1 380.6,744.9 M371,737 L388,743.4 M398.6,798.1 A6.4,12.4 -25 0 1 394.1,775.5" fill="none" stroke="#111" stroke-width="1.0"/>
<path d="M301.4,822.9 C309.7,827.4 335.9,840.7 351.4,849.6 C366.9,858.5 379.4,866.3 394.3,876.4 C409.2,886.5 425.2,897.9 440.7,910.4 C456.2,922.9 472.2,938 487.1,951.4 C502,964.8 515.7,977 530,990.7 C544.3,1004.4 559.8,1019.9 572.9,1033.6 C586,1047.3 596.7,1059.8 608.6,1072.9 C620.5,1086 634.5,1100.8 644.3,1112.1 C654.1,1123.4 661,1132.4 667.5,1140.7 C674,1149 680.9,1158.5 683.6,1162.1 M437.1,810.5 C441.9,813.1 455,820.2 465.7,826.4 C476.4,832.6 489.5,839.6 501.4,847.9 C513.3,856.2 525.8,866.9 537.1,876.4 C548.4,885.9 559.2,895.5 569.3,905 C579.4,914.5 589,923.5 597.9,933.6 C606.8,943.7 615.2,955 622.9,965.7 C630.6,976.4 637.2,986.6 644.3,997.9 C651.4,1009.2 658.6,1021.1 665.7,1033.6 C672.8,1046.1 680,1059.2 687.1,1072.9 C694.2,1086.6 702.4,1102.6 708.6,1115.7 C714.9,1128.8 721.9,1145.5 724.6,1151.4" fill="none" stroke="#111" stroke-width="2.3"/>
<path d="M372.2,672.9 A10.9,16.6 -20 1 1 351.8,680.3 A10.9,16.6 -20 1 1 372.2,672.9 Z M482.2,676.3 A10.9,16.6 -20 1 1 461.8,683.7 A10.9,16.6 -20 1 1 482.2,676.3 Z M275.7,705.7 L318.6,681.4 M292.9,737.7 L338.6,712 M318.6,681.4 C320.5,681.7 326.8,680.5 330,682.9 C333.2,685.2 336.6,690.9 338,695.7 C339.4,700.6 338.5,709.3 338.6,712 M332.9,682.9 C333.9,682.7 337.1,680.8 339.1,681.7 C341.1,682.7 344,686.1 344.9,688.6 C345.7,691 345.2,694.8 344.3,696.6 C343.3,698.4 340,699 339.1,699.4" fill="none" stroke="#111" stroke-width="3.4"/>
<path d="M295.3,714.8 A13.7,17.7 -25 1 1 270.4,726.4 A13.7,17.7 -25 1 1 295.3,714.8 Z" fill="#fcfdfa" stroke="#111" stroke-width="3.4"/>
<path d="M286,720.4 A5.7,8.6 -25 1 1 275.7,725.3 A5.7,8.6 -25 1 1 286,720.4 Z" fill="#fcfdfa" stroke="#111" stroke-width="3.4"/>
<path d="M282,722.7 A5.7,8.6 -25 1 1 271.7,727.6 A5.7,8.6 -25 1 1 282,722.7 Z" fill="#fcfdfa" stroke="#111" stroke-width="3.4"/>
<path d="M277.5,725.3 A5.1,7.7 -25 1 1 268.2,729.6 A5.1,7.7 -25 1 1 277.5,725.3 Z" fill="#fcfdfa" stroke="#111" stroke-width="3.4"/>
<path d="M267.1,725.7 L270.6,732" fill="none" stroke="#111" stroke-width="3.4"/>
<path d="M408.6,700 L415.7,691.4 L427.1,688.6 L439.1,692.9 L444.9,705.7 L443.1,718.6 L432.9,725.7 L421.4,725.7 L410,718.6Z" fill="#fcfdfa" stroke="#111" stroke-width="3.4"/>
<path d="M439.1,691.4 C440.3,691.7 444.2,691.4 446,692.9 C447.8,694.3 449.8,697.5 450,700 C450.2,702.5 447.6,706.7 447.1,708 M434.7,706.3 A10.9,13.7 -25 1 1 415,715.4 A10.9,13.7 -25 1 1 434.7,706.3 Z" fill="none" stroke="#111" stroke-width="3.4"/>
<path d="M423.8,709 A5.7,8 -25 1 1 413.4,713.8 A5.7,8 -25 1 1 423.8,709 Z" fill="#fcfdfa" stroke="#111" stroke-width="3.4"/>
<path d="M420.3,711 A5.7,8 -25 1 1 410,715.8 A5.7,8 -25 1 1 420.3,711 Z" fill="#fcfdfa" stroke="#111" stroke-width="3.4"/>
<path d="M416.4,713.3 A5.1,7.4 -25 1 1 407.1,717.6 A5.1,7.4 -25 1 1 416.4,713.3 Z" fill="#fcfdfa" stroke="#111" stroke-width="3.4"/>
<path d="M378.6,667.1 L590,547.1 M488.6,670.9 L590,617.1 M342.9,688.6 L362.9,677.1 M251.4,740 L272.9,728.6 M452.9,691.4 L472.9,680 M387.1,728.6 L407.1,717.1 M288.6,710.9 L327.1,689.4 M298,729.1 L336.3,707.7 M427.1,688.6 L432.9,700 L432.9,725.7" fill="none" stroke="#111" stroke-width="1.0"/>
<path d="M331.4,597.1 L354.3,660 M252.3,640.6 L282.9,700 M481.4,695.7 L537.1,734.3 M435.7,725.7 L485.7,760.6" fill="none" stroke="#111" stroke-width="2.6"/>
<path d="M246,814 L230,875 M403.2,803.2 L378.2,906.8" fill="none" stroke="#111" stroke-width="2.6"/>
<path d="M653.3,1177.5 L667.4,1196.3 L795.4,1172.3 M653.3,1177.5 L684.6,1170 M684.6,1170 L763.4,1152.9 M788.6,1155.6 L795.4,1168.9 L795.4,1174.6 M667.4,1196.3 L667.4,1200.9 L795.4,1174.6 M653.3,1177.5 L654.2,1182.1 L667.4,1200.9 M661.7,1175.7 L669.7,1172.3 L680,1174.6 L683.4,1180.3 L681.1,1187.1 L669.7,1189.4 L661.7,1184.9Z M661.7,1175.7 L669.7,1179.1 L680,1174.6 M669.7,1179.1 L669.7,1189.4 M766.9,1155.6 L776,1151 L786.3,1153.3 L788.6,1159.7 L785.1,1166.6 L773.7,1167.9 L766.9,1162Z M658.7,1196.7 L658.7,1208.9 M658.7,1208.9 C660.2,1210 663.3,1215.5 667.4,1215.7 C671.5,1215.9 680.8,1211 683.4,1210 M683.4,1199.7 L683.4,1210 M654.2,1203.1 L667.4,1221.4 L796.6,1196.3 M654.2,1203.1 L654.9,1208.2 L666.3,1229.4 L796.6,1200.9 M667.4,1221.4 L667,1229.4 M796.6,1196.3 L796.6,1200.9 M790.9,1175.7 L790.9,1188.3 L796.6,1196.3 M686.9,1197.4 L773.7,1181.4 L774.9,1189.9 L692.6,1206.6Z M692.6,1206.6 L693,1210.5 L774.9,1193.3 M697.1,1202.7 L771.4,1187.6 M720,1203.6 L765.7,1194 M674.3,1228.3 L674.3,1263.7 L680,1266.5 L754.3,1269 L790.9,1247.7 M680,1227.1 L680,1266.5 M796.6,1196.3 L844.6,1166.6 M798.9,1198.6 L853.7,1170 M822.9,1230.6 L868.6,1203.1 M731.4,1159.7 L752,1146.5 M824.3,1219 A4.3,6.9 30 1 1 816.8,1214.7 A4.3,6.9 30 1 1 824.3,1219 Z M817.8,1220.3 L822.9,1213.4 M740.9,1249.9 A4.3,6.9 30 1 1 733.4,1245.5 A4.3,6.9 30 1 1 740.9,1249.9 Z M734.4,1251.1 L739.4,1244.3" fill="none" stroke="#111" stroke-width="1.0"/>
<path d="M597.7,1324.3 L642.3,1271.7" fill="none" stroke="#111" stroke-width="2.8"/>
<path d="M662.9,1250 L633.1,1272.9 L645.7,1280.9Z" fill="#111" stroke="#111" stroke-width="2.8"/>
<path d="M720,1202 C723,1204.8 732.2,1214.3 738.3,1219.1 C744.4,1223.9 750.1,1227 756.6,1230.6 C763.1,1234.2 769.9,1238.7 777.1,1240.9 C784.3,1243.1 792,1243.5 800,1243.6 C808,1243.7 813.1,1244.3 825,1241.5 C836.9,1238.7 855.9,1233.1 871.4,1226.8 C886.9,1220.5 902.4,1211.9 917.9,1203.6 C933.4,1195.3 949.4,1184.2 964.3,1176.8 C979.2,1169.3 992.8,1164 1007.1,1158.9 C1021.4,1153.8 1036.9,1149.5 1050,1146.4 C1063.1,1143.3 1075,1141.3 1085.7,1140.4 C1096.4,1139.5 1105.4,1139.8 1114.3,1141.1 C1123.2,1142.4 1131.6,1144.6 1139.3,1148.2 C1147,1151.8 1154.8,1156.8 1160.7,1162.5 C1166.7,1168.2 1170.8,1174.1 1175,1182.1 C1179.2,1190.1 1182.9,1200.6 1185.7,1210.7 C1188.5,1220.8 1190.6,1231.6 1192.1,1242.9 C1193.6,1254.2 1194,1265.8 1194.6,1278.6 C1195.1,1291.4 1195.3,1313.1 1195.4,1320 M754.3,1195.1 C757,1198 764.2,1206.8 770.3,1212.3 C776.4,1217.8 784,1223.7 790.9,1228.3 C797.8,1232.9 804.2,1236.7 811.4,1239.7 C818.6,1242.8 826.7,1244.7 834.3,1246.6 C841.9,1248.5 845.5,1250.3 857.1,1250.9 C868.7,1251.5 889.3,1251.6 903.6,1250 C917.9,1248.4 929.2,1243.9 942.9,1241.1 C956.6,1238.2 972.6,1234.9 985.7,1232.9 C998.8,1230.9 1010.7,1229.3 1021.4,1229.3 C1032.1,1229.3 1041.7,1230.6 1050,1232.9 C1058.3,1235.2 1065.5,1238.3 1071.4,1242.9 C1077.4,1247.5 1081.8,1253.6 1085.7,1260.7 C1089.6,1267.8 1092.3,1276.8 1094.6,1285.7 C1096.9,1294.6 1098.2,1304.8 1099.3,1314.3 C1100.4,1323.8 1100.7,1333.6 1101.1,1342.9 C1101.5,1352.2 1101.7,1365.5 1101.8,1370" fill="none" stroke="#111" stroke-width="2.2"/>
<path d="M1087.4,1376.9 L1092,1371.1 L1098.9,1370 L1103.4,1376.4 L1108,1370 L1112.6,1371.1 L1114.9,1376.9 L1114.9,1418 L1087.4,1418Z" fill="url(#hatch)" stroke="#111" stroke-width="3.4"/>
<path d="M1085.1,1408.9 L1085.1,1443.1 L1117.8,1443.1 L1117.8,1408.9" fill="#fcfdfa" stroke="#111" stroke-width="3.4"/>
<path d="M1085.1,1408.9 L1087.4,1404.3 M1117.8,1408.9 L1115.3,1404.3 M1085.1,1414.6 C1086.5,1415.3 1090.5,1418.2 1093.1,1419.1 C1095.8,1420.1 1098.3,1420.3 1101.1,1420.3 C1104,1420.3 1107.5,1420.1 1110.3,1419.1 C1113.1,1418.2 1116.6,1415.3 1117.8,1414.6" fill="none" stroke="#111" stroke-width="3.4"/>
<path d="M1081.7,1445.4 L1081.7,1466" fill="#fcfdfa" stroke="#111" stroke-width="3.4"/>
<path d="M1081.7,1466 C1083,1467 1086.5,1470.5 1089.7,1471.7 C1093,1472.9 1097.3,1473.3 1101.1,1473.3 C1105,1473.3 1109.5,1472.9 1112.6,1471.7 C1115.6,1470.5 1118.3,1467 1119.4,1466" fill="#fcfdfa" stroke="#111" stroke-width="3.4"/>
<path d="M1119.4,1466 L1119.4,1445.4 M1081.7,1445.4 L1085.1,1442 M1119.4,1445.4 L1117.1,1442 M1081.7,1445.4 C1083.2,1446.2 1087.6,1449 1090.9,1450 C1094.1,1451 1097.7,1451.1 1101.1,1451.1 C1104.6,1451.1 1108.4,1451 1111.4,1450 C1114.5,1449 1118.1,1446.2 1119.4,1445.4" fill="none" stroke="#111" stroke-width="3.4"/>
<path d="M1183,1327.3 L1187.5,1321.5 L1194.4,1320.4 L1199,1326.8 L1203.5,1320.4 L1208.1,1321.5 L1210.4,1327.3 L1210.4,1368.4 L1183,1368.4Z" fill="url(#hatch)" stroke="#111" stroke-width="3.4"/>
<path d="M1180.7,1359.3 L1180.7,1393.5 L1213.4,1393.5 L1213.4,1359.3" fill="#fcfdfa" stroke="#111" stroke-width="3.4"/>
<path d="M1180.7,1359.3 L1183,1354.7 M1213.4,1359.3 L1210.9,1354.7 M1180.7,1365 C1182,1365.7 1186,1368.6 1188.7,1369.5 C1191.4,1370.5 1193.8,1370.7 1196.7,1370.7 C1199.5,1370.7 1203,1370.5 1205.8,1369.5 C1208.6,1368.6 1212.1,1365.7 1213.4,1365" fill="none" stroke="#111" stroke-width="3.4"/>
<path d="M1177.3,1395.8 L1177.3,1416.4" fill="#fcfdfa" stroke="#111" stroke-width="3.4"/>
<path d="M1177.3,1416.4 C1178.6,1417.4 1182,1420.9 1185.3,1422.1 C1188.5,1423.3 1192.9,1423.7 1196.7,1423.7 C1200.5,1423.7 1205.1,1423.3 1208.1,1422.1 C1211.2,1420.9 1213.8,1417.4 1215,1416.4" fill="#fcfdfa" stroke="#111" stroke-width="3.4"/>
<path d="M1215,1416.4 L1215,1395.8 M1177.3,1395.8 L1180.7,1392.4 M1215,1395.8 L1212.7,1392.4 M1177.3,1395.8 C1178.8,1396.6 1183.2,1399.4 1186.4,1400.4 C1189.6,1401.4 1193.3,1401.5 1196.7,1401.5 C1200.1,1401.5 1203.9,1401.4 1207,1400.4 C1210,1399.4 1213.6,1396.6 1215,1395.8" fill="none" stroke="#111" stroke-width="3.4"/>
<path d="M1177.7,1455 L1177.7,1467.8 L1186.9,1477.9 L1206.3,1477.9 L1215.4,1467.8 L1215.4,1455Z" fill="#fcfdfa" stroke="#111" stroke-width="3.4"/>
<path d="M1215.2,1455 A18.7,8.2 0 1 1 1177.7,1455 A18.7,8.2 0 1 1 1215.2,1455 Z" fill="#fcfdfa" stroke="#111" stroke-width="3.4"/>
<path d="M1188,1460.3 L1188,1443.1 L1191.4,1439.7 L1201.7,1439.7 L1205.1,1443.1 L1205.1,1460.3" fill="#fcfdfa" stroke="#111" stroke-width="3.4"/>
<path d="M1186.9,1477.9 L1186.9,1483.1 L1191.4,1485.9 L1202.2,1485.9 L1206.3,1482.7 L1206.3,1477.9" fill="none" stroke="#111" stroke-width="3.4"/>
<path d="M1082.2,1503.5 L1082.2,1516.3 L1091.3,1526.3 L1110.7,1526.3 L1119.9,1516.3 L1119.9,1503.5Z" fill="#fcfdfa" stroke="#111" stroke-width="3.4"/>
<path d="M1119.7,1503.5 A18.7,8.2 0 1 1 1082.2,1503.5 A18.7,8.2 0 1 1 1119.7,1503.5 Z" fill="#fcfdfa" stroke="#111" stroke-width="3.4"/>
<path d="M1092.5,1508.7 L1092.5,1491.6 L1095.9,1488.2 L1106.2,1488.2 L1109.6,1491.6 L1109.6,1508.7" fill="#fcfdfa" stroke="#111" stroke-width="3.4"/>
<path d="M1091.3,1526.3 L1091.3,1531.6 L1095.9,1534.3 L1106.6,1534.3 L1110.7,1531.1 L1110.7,1526.3 M1213.4,1507.1 A17.4,9.6 0 1 1 1178.6,1507.1 A17.4,9.6 0 1 1 1213.4,1507.1 Z M1116.9,1556.7 A16.5,10.1 0 1 1 1084,1556.7 A16.5,10.1 0 1 1 1116.9,1556.7 Z" fill="none" stroke="#111" stroke-width="3.4"/>
<path d="M1090.9,1452.7 L1090.9,1470.6 M1111.4,1452.7 L1111.4,1470.6 M1186.4,1403.1 L1186.4,1421 M1207,1403.1 L1207,1421 M1100.7,1473.3 L1100.7,1486.6 M1196,1424.4 L1196,1438.6 M1196,1486.6 L1196,1556.5 L1138.9,1589.7 L1138.9,1620.5 M1100.7,1534.6 L1100.7,1626 M1186.9,1463 L1186.9,1477.4 M1206.3,1463 L1206.3,1477.4 M1188.5,1445.4 C1189.8,1445.7 1193.8,1447.3 1196.5,1447.3 C1199.2,1447.3 1203.3,1445.7 1204.7,1445.4 M1188.5,1449.5 C1189.8,1449.8 1193.8,1451.4 1196.5,1451.4 C1199.2,1451.4 1203.3,1449.8 1204.7,1449.5 M1188.5,1453.7 C1189.8,1454 1193.8,1455.5 1196.5,1455.5 C1199.2,1455.5 1203.3,1454 1204.7,1453.7 M1188.5,1457.8 C1189.8,1458.1 1193.8,1459.6 1196.5,1459.6 C1199.2,1459.6 1203.3,1458.1 1204.7,1457.8 M1189.1,1482 L1204,1482 M1091.3,1511.5 L1091.3,1525.9 M1110.7,1511.5 L1110.7,1525.9 M1092.9,1493.9 C1094.2,1494.2 1098.2,1495.7 1100.9,1495.7 C1103.6,1495.7 1107.8,1494.2 1109.1,1493.9 M1092.9,1498 C1094.2,1498.3 1098.2,1499.8 1100.9,1499.8 C1103.6,1499.8 1107.8,1498.3 1109.1,1498 M1092.9,1502.1 C1094.2,1502.4 1098.2,1503.9 1100.9,1503.9 C1103.6,1503.9 1107.8,1502.4 1109.1,1502.1 M1092.9,1506.2 C1094.2,1506.5 1098.2,1508.1 1100.9,1508.1 C1103.6,1508.1 1107.8,1506.5 1109.1,1506.2 M1093.6,1530.5 L1108.5,1530.5" fill="none" stroke="#111" stroke-width="1.0"/>
<path d="M1033.7,1384.9 L1085.1,1421.4 M1265.7,1342.6 L1212,1376.9 M1268,1427.1 L1215.4,1460.3 M1028,1474 L1081.7,1510.6 M1276,1503.7 L1213.1,1508.3 M1021.1,1540.3 L1082.9,1558.6" fill="none" stroke="#111" stroke-width="2.6"/>
<path d="M1066.9,1619.4 L1086.3,1603.4 L1140,1597.7 L1164,1604.6 L1176.6,1635.4 L1157.1,1653.7 L1109.1,1660.6 L1078.3,1650.3Z M1080.6,1621.7 C1080.6,1619 1082.1,1615.6 1085.1,1613.7 C1088.2,1611.8 1093.9,1610.3 1098.9,1610.3 C1103.8,1610.3 1111.4,1612.6 1114.9,1613.7 C1118.3,1614.9 1117.5,1617.9 1119.4,1617.1 C1121.3,1616.4 1122.9,1611 1126.3,1609.1 C1129.7,1607.2 1135.4,1605.5 1140,1605.7 C1144.6,1605.9 1150.3,1608 1153.7,1610.3 C1157.1,1612.6 1160.2,1616.8 1160.6,1619.4 C1161,1622.1 1155.2,1624.4 1156,1626.3 C1156.8,1628.2 1163.2,1628.6 1165.1,1630.9 C1167,1633.1 1168.6,1637.3 1167.4,1640 C1166.3,1642.7 1162.1,1645.3 1158.3,1646.9 C1154.5,1648.4 1149.1,1649.3 1144.6,1649.1 C1140,1649 1134.1,1647.6 1130.9,1645.7 C1127.6,1643.8 1125.3,1640.2 1125.1,1637.7 C1125,1635.2 1130.1,1632.8 1129.7,1630.9 C1129.3,1629 1125.3,1626.1 1122.9,1626.3 C1120.4,1626.5 1118.9,1630.7 1114.9,1632 C1110.9,1633.3 1103.8,1634.7 1098.9,1634.3 C1093.9,1633.9 1088.2,1631.8 1085.1,1629.7 C1082.1,1627.6 1080.6,1624.4 1080.6,1621.7Z M1084,1622.9 C1084.8,1621.8 1085.9,1618.2 1088.6,1616.7 C1091.2,1615.2 1095.8,1613.7 1100,1613.7 C1104.2,1613.7 1110.7,1615.5 1113.7,1616.7 C1116.8,1617.8 1117.5,1619.9 1118.3,1620.6 M1122.9,1617.1 C1123.8,1616.4 1125.7,1613.8 1128.6,1612.6 C1131.4,1611.3 1136.2,1609.5 1140,1609.6 C1143.8,1609.7 1148.7,1611.5 1151.4,1613.3 C1154.2,1615 1155.6,1618.8 1156.5,1619.9 M1153.7,1629.7 C1155,1630.4 1160.1,1631.9 1161.7,1633.6 C1163.3,1635.3 1164.3,1638.2 1163.3,1640 C1162.4,1641.8 1159.1,1643.2 1156,1644.1 C1152.9,1645.1 1148.3,1645.9 1144.6,1645.7 C1140.8,1645.5 1136.1,1644.1 1133.6,1642.7 C1131.1,1641.4 1130.4,1638.6 1129.7,1637.7 M1107.3,1625.1 A7.3,4.1 0 1 1 1092.7,1625.1 A7.3,4.1 0 1 1 1107.3,1625.1 Z M1145,1619.9 A6.9,4.1 0 1 1 1131.3,1619.9 A6.9,4.1 0 1 1 1145,1619.9 Z M1153,1638.9 A7.3,4.1 0 1 1 1138.4,1638.9 A7.3,4.1 0 1 1 1153,1638.9 Z M1105.9,1626.3 A5.9,2.7 0 0 1 1094.1,1626.3 M1143.7,1621 A5.5,2.7 0 0 1 1132.7,1621 M1151.7,1640 A5.9,2.7 0 0 1 1139.8,1640 M1066.9,1619.9 C1065,1619.4 1058.5,1617.8 1055.4,1617.1 C1052.4,1616.5 1050.4,1615.3 1048.6,1616 C1046.7,1616.7 1045.2,1618.6 1044.5,1621.3 C1043.7,1623.9 1043.3,1629.7 1044,1632 C1044.7,1634.3 1044.8,1633.6 1048.6,1635 C1052.4,1636.4 1063.8,1639.5 1066.9,1640.5 M1048.6,1616 L1048.6,1635 M1066.9,1619.4 L1066.9,1640 L1078.3,1650.3 M1066.9,1640 L1066.9,1681.1 M1078.3,1650.3 L1078.3,1704 M1109.1,1660.6 L1109.1,1704 M1157.1,1653.7 L1157.1,1704 M1176.6,1635.4 L1176.6,1674.3 M1074.6,1660.1 A3.2,11.4 -8 1 1 1068.3,1661 A3.2,11.4 -8 1 1 1074.6,1660.1 Z M1073.9,1670.1 A1.8,9.6 -8 0 1 1071.2,1651.1 M1099.2,1670.3 A6.4,6.9 -20 1 1 1087.1,1674.6 A6.4,6.9 -20 1 1 1099.2,1670.3 Z M1089.7,1668.6 L1095.4,1676.6 M1148.9,1677.8 A16.5,12.8 -10 1 1 1116.5,1683.5 A16.5,12.8 -10 1 1 1148.9,1677.8 Z M1142.1,1677.5 A10.3,7.8 -10 1 1 1121.9,1681.1 A10.3,7.8 -10 1 1 1142.1,1677.5 Z M1142.1,1679.4 A10.3,7.8 -10 0 1 1121.9,1682.9 M1126.3,1677.7 L1137.7,1677 M1136.6,1674.3 L1137.7,1683.4 M1062.3,1674.3 C1061.3,1676.8 1057.9,1684.2 1056.6,1689.1 C1055.2,1694.1 1054.7,1701.5 1054.3,1704 M1065.7,1678.9 C1064.8,1681.1 1061.3,1688.4 1060,1692.6 C1058.7,1696.8 1058.5,1702.1 1058.2,1704 M1176.6,1674.3 C1177.6,1676.2 1181.4,1680.8 1183,1685.7 C1184.5,1690.7 1185.3,1701 1185.7,1704" fill="none" stroke="#111" stroke-width="1.0"/>
<path d="M1066.3,1714.9 L1066.3,1884 M1176.5,1660 L1176.5,1744.6 M1176.5,1838.3 L1176.5,1852 M1078.9,1660 L1078.9,1705.7 L1109.7,1714.9 L1157.7,1708 L1176.5,1694.3 M1109.7,1660 L1109.7,1714.9 M1157.7,1660 L1157.7,1708 M1066.3,1673.7 L1078.9,1705.7 M1056,1696.6 C1058.1,1700.2 1061.9,1713.3 1068.6,1718.3 C1075.2,1723.2 1087.2,1724.6 1096,1726.3 C1104.8,1728 1112.8,1728.6 1121.1,1728.6 C1129.5,1728.6 1137.5,1728.2 1146.3,1726.3 C1155,1724.4 1167.2,1722.5 1173.7,1717.1 C1180.2,1711.8 1183.2,1698.1 1185.1,1694.3 M1056.5,1701.6 C1058.5,1705.2 1062,1718.4 1068.6,1723.3 C1075.2,1728.3 1087.2,1729.6 1096,1731.3 C1104.8,1733 1112.8,1733.6 1121.1,1733.6 C1129.5,1733.6 1137.5,1733.2 1146.3,1731.3 C1155,1729.4 1167.2,1727.5 1173.7,1722.2 C1180.2,1716.8 1183.2,1703.1 1185.1,1699.3 M1057.1,1707.5 C1059,1711.2 1062.1,1724.3 1068.6,1729.3 C1075.1,1734.2 1087.2,1735.5 1096,1737.3 C1104.8,1739 1112.8,1739.5 1121.1,1739.5 C1129.5,1739.5 1137.5,1739.2 1146.3,1737.3 C1155,1735.4 1167.2,1733.4 1173.7,1728.1 C1180.2,1722.8 1183.2,1709.1 1185.1,1705.3 M1056,1696.6 C1056.6,1694.3 1058.2,1686.7 1059.9,1682.9 C1061.6,1679 1065.2,1675.2 1066.3,1673.7 M1185.1,1694.3 C1184.8,1692 1184.2,1684.2 1182.9,1680.6 C1181.5,1677 1178.1,1673.9 1177.1,1672.6 M1056,1696.6 L1054.9,1706.9 M1185.1,1694.3 L1185.6,1705.7 M1076.3,1668.7 A3.2,11.4 -8 1 1 1070,1669.6 A3.2,11.4 -8 1 1 1076.3,1668.7 Z M1098.6,1670.8 A6.4,6.2 -20 1 1 1086.6,1675.2 A6.4,6.2 -20 1 1 1098.6,1670.8 Z M1151.7,1679.7 A18.3,14.9 -10 1 1 1115.7,1686 A18.3,14.9 -10 1 1 1151.7,1679.7 Z M1142.7,1678.8 A10.3,8 -10 1 1 1122.4,1682.4 A10.3,8 -10 1 1 1142.7,1678.8 Z M1142.7,1681.1 A10.3,8 -10 0 1 1122.4,1684.6 M1059.9,1712.6 C1059.2,1715.2 1057.8,1722.9 1056,1728.6 C1054.2,1734.3 1049.7,1741.5 1049.1,1746.9 C1048.6,1752.2 1049.7,1757.3 1052.6,1760.6 C1055.4,1763.8 1064,1765.3 1066.3,1766.3 M1066.3,1790.3 C1064.4,1791.8 1057.7,1795.2 1054.9,1799.4 C1052,1803.6 1049.3,1810.5 1049.1,1815.4 C1049,1820.4 1050.9,1825.9 1053.7,1829.1 C1056.6,1832.4 1064.2,1833.9 1066.3,1834.9 M1066.3,1863.4 C1064.4,1864.2 1057.7,1865.3 1054.9,1868 C1052,1870.7 1049.9,1876.8 1049.1,1879.4 C1048.4,1882.1 1050.1,1883.2 1050.3,1884 M1176.5,1746.9 C1175.2,1746.3 1171.9,1743.2 1169.1,1743.4 C1166.4,1743.6 1162.7,1745.1 1160,1748 C1157.3,1750.9 1154.2,1756.6 1153.1,1760.6 C1152.1,1764.6 1152.8,1768.6 1153.6,1772 C1154.4,1775.4 1157.4,1778.1 1157.7,1781.1 C1158,1784.2 1157,1786.1 1155.4,1790.3 C1153.9,1794.5 1149.7,1801.3 1148.6,1806.3 C1147.4,1811.2 1148,1816.6 1148.6,1820 C1149.1,1823.4 1148.6,1824.2 1152,1826.9 C1155.4,1829.5 1166.3,1834.5 1169.1,1836 M1169.1,1743.4 L1194.3,1756 M1169.1,1836 L1180.6,1837.1" fill="none" stroke="#111" stroke-width="1.0"/>
<path d="M1194.7,1774.3 A11.4,16 20 1 1 1173.3,1766.5 A11.4,16 20 1 1 1194.7,1774.3 Z" fill="#fcfdfa" stroke="#111" stroke-width="1.0"/>
<path d="M1188.4,1772.4 A5.9,9.1 20 1 1 1177.3,1768.4 A5.9,9.1 20 1 1 1188.4,1772.4 Z M1181.5,1777.1 A4.1,7.3 20 1 1 1182.7,1763.5 M1173.7,1783.4 L1176,1794.9 M1189.7,1784.6 L1194.3,1797.1" fill="none" stroke="#111" stroke-width="1.0"/>
<path d="M1199,1820.9 A16,22.2 20 1 1 1169,1810 A16,22.2 20 1 1 1199,1820.9 Z" fill="#fcfdfa" stroke="#111" stroke-width="1.0"/>
<path d="M1177.1,1836.5 A14.2,20.6 20 1 1 1191,1798.4 M1191.7,1818.2 A8.2,12.8 20 1 1 1176.3,1812.6 A8.2,12.8 20 1 1 1191.7,1818.2 Z M1188,1817.8 A5.5,10.1 20 1 1 1177.7,1814 A5.5,10.1 20 1 1 1188,1817.8 Z M1176.5,1852 C1175.2,1851.8 1172.3,1849.7 1169.1,1850.9 C1166,1852 1160.8,1855.2 1157.7,1858.9 C1154.7,1862.5 1152.4,1868.4 1150.9,1872.6 C1149.3,1876.8 1149,1882.1 1148.6,1884 M1169.1,1850.9 L1194.3,1863.4" fill="none" stroke="#111" stroke-width="1.0"/>
<path d="M1199.7,1885.9 A15.5,21.7 20 1 1 1170.5,1875.3 A15.5,21.7 20 1 1 1199.7,1885.9 Z" fill="#fcfdfa" stroke="#111" stroke-width="1.0"/>
<path d="M1192.7,1883.3 A8,12.6 20 1 1 1177.6,1877.8 A8,12.6 20 1 1 1192.7,1883.3 Z M1188.7,1882.7 A5,9.6 20 1 1 1179.3,1879.3 A5,9.6 20 1 1 1188.7,1882.7 Z" fill="none" stroke="#111" stroke-width="1.0"/>
<path d="M1200.7,1815 L1269.3,1775.8 L1359.3,1827.9 L1359.3,1838.6 M1277.4,1793.6 A7.5,4.3 0 1 1 1262.4,1793.6 A7.5,4.3 0 1 1 1277.4,1793.6 Z M1335.9,1826.8 A7.7,4.5 0 1 1 1320.5,1826.8 A7.7,4.5 0 1 1 1335.9,1826.8 Z M1176.1,1837.5 L1176.1,1851.4 M1100,1906.1 C1103.6,1906.6 1114.3,1909.5 1121.4,1909.3 C1128.6,1909.1 1136.4,1906.8 1142.9,1905 C1149.3,1903.2 1157.1,1899.6 1160,1898.6 M1100,1911.4 C1102.1,1912.5 1108.6,1916.7 1112.9,1917.9 C1117.1,1919 1121.4,1918.9 1125.7,1918.3 C1130,1917.6 1136.4,1914.7 1138.6,1914 M1138.6,1914 L1164.3,1902.9 M1192.6,1898.6 L1192.6,1917.9 L1140.7,1947.9 M1117.1,1922.1 L1117.1,1943.6 M1125.7,1924.3 L1125.7,1943.6" fill="none" stroke="#111" stroke-width="1.0"/>
<path d="M1047.6,1905 L885.3,1997.9 L975.9,2051.7 L975.9,2059.1 L885.3,2006 L885.3,1997.9 M925,1997.5 A7.4,4.5 0 1 1 910.1,1997.5 A7.4,4.5 0 1 1 925,1997.5 Z M982.6,2030.5 A7.4,4.5 0 1 1 967.7,2030.5 A7.4,4.5 0 1 1 982.6,2030.5 Z M1049.4,1873.4 L1049.4,1912.4 M1049.4,1912.4 C1050.7,1913.7 1045.7,1913.4 1056.9,1919.9 C1068,1926.4 1104.8,1945.8 1116.3,1951.4 C1127.7,1957.1 1122.5,1953.9 1125.6,1953.7 C1128.7,1953.4 1133.3,1950.6 1134.9,1949.9 M1134.9,1949.9 L1192.4,1916.1 M1049.4,1873.4 C1050.7,1871.9 1054.1,1866.3 1056.9,1864.1 C1059.6,1862 1064.6,1861 1066.1,1860.4 M1049.4,1873.4 C1051.3,1875.6 1048.8,1879.3 1060.6,1886.4 C1072.3,1893.5 1107.6,1911.5 1120,1916.1 C1132.4,1920.8 1132.4,1914.6 1134.9,1914.3 M1117.4,1923.6 L1117.4,1945.9 M1124.8,1924.7 L1124.8,1945.9 M1066.1,1840 L1066.1,1884.6 M1066.1,1884.6 C1068.9,1887.4 1073.9,1897.3 1082.9,1901.3 C1091.8,1905.3 1108.9,1908.1 1120,1908.7 C1131.1,1909.3 1141.7,1907.2 1149.7,1905 C1157.8,1902.8 1165.2,1897.3 1168.3,1895.7" fill="none" stroke="#111" stroke-width="1.0"/>

</g>
<g id="labels">
<g class="lbl" text-anchor="middle">
<text x="318.6" y="575.8">8</text>
<text x="242.3" y="621.8">7</text>
<text x="544.9" y="738.3">6</text>
<text x="496.3" y="762.8">5</text>
<text x="221" y="889.3">4</text>
<text x="370" y="926.8">3</text>
<text x="594.5" y="1360.8">|A</text>
<text x="1017.7" y="1382.3">3</text>
<text x="1274.9" y="1337.3">4</text>
<text x="1273.7" y="1420.8">1</text>
<text x="1013.1" y="1471.3">1</text>
<text x="1281.7" y="1500.8">2</text>
<text x="1004" y="1539.8">2</text>
</g>

</g>
</svg>
</body>
</html>
